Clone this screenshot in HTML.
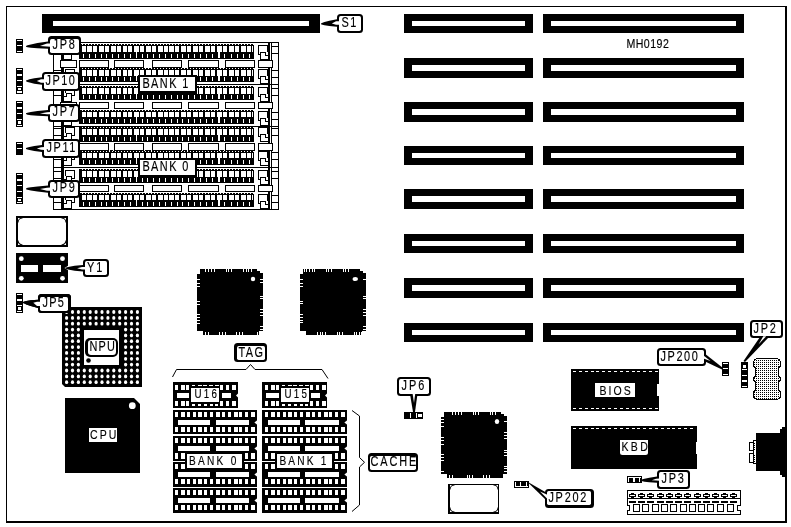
<!DOCTYPE html>
<html><head><meta charset="utf-8"><title>MH0192</title>
<style>
html,body{margin:0;padding:0;background:#fff;}
svg{display:block;filter:grayscale(1);}
text{font-family:"Liberation Sans",sans-serif;fill:#000;stroke:#000;stroke-width:0.15px;}
</style></head>
<body>
<svg width="791" height="527" viewBox="0 0 791 527" shape-rendering="crispEdges">
<rect x="0" y="0" width="791" height="527" fill="#fff"/>
<rect x="6" y="6" width="781" height="1" fill="#000"/>
<rect x="6" y="6" width="1" height="517" fill="#000"/>
<rect x="785" y="6" width="2" height="517" fill="#000"/>
<rect x="6" y="521" width="781" height="2" fill="#000"/>
<rect x="42" y="14" width="278" height="19" fill="#000"/>
<rect x="53" y="21" width="256" height="5" fill="#fff"/>
<rect x="404" y="14" width="129" height="19" fill="#000"/>
<rect x="412" y="21" width="113" height="5" fill="#fff"/>
<rect x="543" y="14" width="201" height="19" fill="#000"/>
<rect x="551" y="21" width="185" height="5" fill="#fff"/>
<rect x="404" y="58" width="129" height="20" fill="#000"/>
<rect x="412" y="65" width="113" height="6" fill="#fff"/>
<rect x="543" y="58" width="201" height="20" fill="#000"/>
<rect x="551" y="65" width="185" height="6" fill="#fff"/>
<rect x="404" y="102" width="129" height="20" fill="#000"/>
<rect x="412" y="109" width="113" height="6" fill="#fff"/>
<rect x="543" y="102" width="201" height="20" fill="#000"/>
<rect x="551" y="109" width="185" height="6" fill="#fff"/>
<rect x="404" y="146" width="129" height="19" fill="#000"/>
<rect x="412" y="153" width="113" height="5" fill="#fff"/>
<rect x="543" y="146" width="201" height="19" fill="#000"/>
<rect x="551" y="153" width="185" height="5" fill="#fff"/>
<rect x="404" y="189" width="129" height="20" fill="#000"/>
<rect x="412" y="196" width="113" height="6" fill="#fff"/>
<rect x="543" y="189" width="201" height="20" fill="#000"/>
<rect x="551" y="196" width="185" height="6" fill="#fff"/>
<rect x="404" y="234" width="129" height="19" fill="#000"/>
<rect x="412" y="241" width="113" height="5" fill="#fff"/>
<rect x="543" y="234" width="201" height="19" fill="#000"/>
<rect x="551" y="241" width="185" height="5" fill="#fff"/>
<rect x="404" y="278" width="129" height="20" fill="#000"/>
<rect x="412" y="285" width="113" height="6" fill="#fff"/>
<rect x="543" y="278" width="201" height="20" fill="#000"/>
<rect x="551" y="285" width="185" height="6" fill="#fff"/>
<rect x="404" y="323" width="129" height="19" fill="#000"/>
<rect x="412" y="330" width="113" height="5" fill="#fff"/>
<rect x="543" y="323" width="201" height="19" fill="#000"/>
<rect x="551" y="330" width="185" height="5" fill="#fff"/>
<text transform="translate(626.4,48) scale(0.85,1)" font-size="12.5" textLength="50.00" lengthAdjust="spacing">MH0192</text>
<rect x="53" y="42" width="226" height="1" fill="#000"/>
<rect x="53" y="209" width="226" height="1" fill="#000"/>
<rect x="53" y="42" width="1" height="168" fill="#000"/>
<rect x="278" y="42" width="1" height="168" fill="#000"/>
<rect x="61" y="42" width="3" height="168" fill="#000"/>
<rect x="268" y="42" width="2" height="168" fill="#000"/>
<rect x="271" y="42" width="1" height="168" fill="#000"/>
<rect x="53" y="84" width="226" height="1" fill="#000"/>
<rect x="53" y="126" width="226" height="1" fill="#000"/>
<rect x="53" y="167" width="226" height="1" fill="#000"/>
<rect x="54" y="46" width="7" height="1" fill="#000"/>
<rect x="272" y="46" width="6" height="1" fill="#000"/>
<rect x="54" y="53" width="7" height="1" fill="#000"/>
<rect x="272" y="53" width="6" height="1" fill="#000"/>
<rect x="54" y="70" width="7" height="1" fill="#000"/>
<rect x="272" y="70" width="6" height="1" fill="#000"/>
<rect x="54" y="77" width="7" height="1" fill="#000"/>
<rect x="272" y="77" width="6" height="1" fill="#000"/>
<rect x="54" y="88" width="7" height="1" fill="#000"/>
<rect x="272" y="88" width="6" height="1" fill="#000"/>
<rect x="54" y="95" width="7" height="1" fill="#000"/>
<rect x="272" y="95" width="6" height="1" fill="#000"/>
<rect x="54" y="112" width="7" height="1" fill="#000"/>
<rect x="272" y="112" width="6" height="1" fill="#000"/>
<rect x="54" y="119" width="7" height="1" fill="#000"/>
<rect x="272" y="119" width="6" height="1" fill="#000"/>
<rect x="54" y="128" width="7" height="1" fill="#000"/>
<rect x="272" y="128" width="6" height="1" fill="#000"/>
<rect x="54" y="135" width="7" height="1" fill="#000"/>
<rect x="272" y="135" width="6" height="1" fill="#000"/>
<rect x="54" y="152" width="7" height="1" fill="#000"/>
<rect x="272" y="152" width="6" height="1" fill="#000"/>
<rect x="54" y="159" width="7" height="1" fill="#000"/>
<rect x="272" y="159" width="6" height="1" fill="#000"/>
<rect x="54" y="171" width="7" height="1" fill="#000"/>
<rect x="272" y="171" width="6" height="1" fill="#000"/>
<rect x="54" y="178" width="7" height="1" fill="#000"/>
<rect x="272" y="178" width="6" height="1" fill="#000"/>
<rect x="54" y="195" width="7" height="1" fill="#000"/>
<rect x="272" y="195" width="6" height="1" fill="#000"/>
<rect x="54" y="202" width="7" height="1" fill="#000"/>
<rect x="272" y="202" width="6" height="1" fill="#000"/>
<rect x="258" y="45" width="10" height="10" fill="#000"/>
<rect x="259" y="46" width="8" height="8" fill="#fff"/>
<rect x="260" y="52" width="9" height="8" fill="#000"/>
<rect x="261" y="53" width="7" height="6" fill="#fff"/>
<rect x="266" y="52" width="2" height="3" fill="#fff"/>
<rect x="265" y="52" width="1" height="4" fill="#000"/>
<rect x="265" y="55" width="4" height="1" fill="#000"/>
<rect x="65" y="45" width="10" height="9" fill="#000"/>
<rect x="66" y="46" width="8" height="7" fill="#fff"/>
<rect x="63" y="51" width="9" height="9" fill="#000"/>
<rect x="64" y="52" width="7" height="7" fill="#fff"/>
<rect x="64" y="51" width="2" height="3" fill="#fff"/>
<rect x="66" y="51" width="1" height="4" fill="#000"/>
<rect x="63" y="54" width="4" height="1" fill="#000"/>
<rect x="61" y="51" width="3" height="9" fill="#000"/>
<rect x="258" y="69" width="10" height="10" fill="#000"/>
<rect x="259" y="70" width="8" height="8" fill="#fff"/>
<rect x="260" y="76" width="9" height="8" fill="#000"/>
<rect x="261" y="77" width="7" height="6" fill="#fff"/>
<rect x="266" y="76" width="2" height="3" fill="#fff"/>
<rect x="265" y="76" width="1" height="4" fill="#000"/>
<rect x="265" y="79" width="4" height="1" fill="#000"/>
<rect x="65" y="69" width="10" height="9" fill="#000"/>
<rect x="66" y="70" width="8" height="7" fill="#fff"/>
<rect x="63" y="75" width="9" height="9" fill="#000"/>
<rect x="64" y="76" width="7" height="7" fill="#fff"/>
<rect x="64" y="75" width="2" height="3" fill="#fff"/>
<rect x="66" y="75" width="1" height="4" fill="#000"/>
<rect x="63" y="78" width="4" height="1" fill="#000"/>
<rect x="61" y="75" width="3" height="9" fill="#000"/>
<rect x="258" y="87" width="10" height="10" fill="#000"/>
<rect x="259" y="88" width="8" height="8" fill="#fff"/>
<rect x="260" y="94" width="9" height="8" fill="#000"/>
<rect x="261" y="95" width="7" height="6" fill="#fff"/>
<rect x="266" y="94" width="2" height="3" fill="#fff"/>
<rect x="265" y="94" width="1" height="4" fill="#000"/>
<rect x="265" y="97" width="4" height="1" fill="#000"/>
<rect x="65" y="87" width="10" height="9" fill="#000"/>
<rect x="66" y="88" width="8" height="7" fill="#fff"/>
<rect x="63" y="93" width="9" height="9" fill="#000"/>
<rect x="64" y="94" width="7" height="7" fill="#fff"/>
<rect x="64" y="93" width="2" height="3" fill="#fff"/>
<rect x="66" y="93" width="1" height="4" fill="#000"/>
<rect x="63" y="96" width="4" height="1" fill="#000"/>
<rect x="61" y="93" width="3" height="9" fill="#000"/>
<rect x="258" y="111" width="10" height="10" fill="#000"/>
<rect x="259" y="112" width="8" height="8" fill="#fff"/>
<rect x="260" y="118" width="9" height="8" fill="#000"/>
<rect x="261" y="119" width="7" height="6" fill="#fff"/>
<rect x="266" y="118" width="2" height="3" fill="#fff"/>
<rect x="265" y="118" width="1" height="4" fill="#000"/>
<rect x="265" y="121" width="4" height="1" fill="#000"/>
<rect x="65" y="111" width="10" height="9" fill="#000"/>
<rect x="66" y="112" width="8" height="7" fill="#fff"/>
<rect x="63" y="117" width="9" height="9" fill="#000"/>
<rect x="64" y="118" width="7" height="7" fill="#fff"/>
<rect x="64" y="117" width="2" height="3" fill="#fff"/>
<rect x="66" y="117" width="1" height="4" fill="#000"/>
<rect x="63" y="120" width="4" height="1" fill="#000"/>
<rect x="61" y="117" width="3" height="9" fill="#000"/>
<rect x="258" y="127" width="10" height="10" fill="#000"/>
<rect x="259" y="128" width="8" height="8" fill="#fff"/>
<rect x="260" y="134" width="9" height="8" fill="#000"/>
<rect x="261" y="135" width="7" height="6" fill="#fff"/>
<rect x="266" y="134" width="2" height="3" fill="#fff"/>
<rect x="265" y="134" width="1" height="4" fill="#000"/>
<rect x="265" y="137" width="4" height="1" fill="#000"/>
<rect x="65" y="127" width="10" height="9" fill="#000"/>
<rect x="66" y="128" width="8" height="7" fill="#fff"/>
<rect x="63" y="133" width="9" height="9" fill="#000"/>
<rect x="64" y="134" width="7" height="7" fill="#fff"/>
<rect x="64" y="133" width="2" height="3" fill="#fff"/>
<rect x="66" y="133" width="1" height="4" fill="#000"/>
<rect x="63" y="136" width="4" height="1" fill="#000"/>
<rect x="61" y="133" width="3" height="9" fill="#000"/>
<rect x="258" y="151" width="10" height="10" fill="#000"/>
<rect x="259" y="152" width="8" height="8" fill="#fff"/>
<rect x="260" y="158" width="9" height="8" fill="#000"/>
<rect x="261" y="159" width="7" height="6" fill="#fff"/>
<rect x="266" y="158" width="2" height="3" fill="#fff"/>
<rect x="265" y="158" width="1" height="4" fill="#000"/>
<rect x="265" y="161" width="4" height="1" fill="#000"/>
<rect x="65" y="151" width="10" height="9" fill="#000"/>
<rect x="66" y="152" width="8" height="7" fill="#fff"/>
<rect x="63" y="157" width="9" height="9" fill="#000"/>
<rect x="64" y="158" width="7" height="7" fill="#fff"/>
<rect x="64" y="157" width="2" height="3" fill="#fff"/>
<rect x="66" y="157" width="1" height="4" fill="#000"/>
<rect x="63" y="160" width="4" height="1" fill="#000"/>
<rect x="61" y="157" width="3" height="9" fill="#000"/>
<rect x="258" y="170" width="10" height="10" fill="#000"/>
<rect x="259" y="171" width="8" height="8" fill="#fff"/>
<rect x="260" y="177" width="9" height="8" fill="#000"/>
<rect x="261" y="178" width="7" height="6" fill="#fff"/>
<rect x="266" y="177" width="2" height="3" fill="#fff"/>
<rect x="265" y="177" width="1" height="4" fill="#000"/>
<rect x="265" y="180" width="4" height="1" fill="#000"/>
<rect x="65" y="170" width="10" height="9" fill="#000"/>
<rect x="66" y="171" width="8" height="7" fill="#fff"/>
<rect x="63" y="176" width="9" height="9" fill="#000"/>
<rect x="64" y="177" width="7" height="7" fill="#fff"/>
<rect x="64" y="176" width="2" height="3" fill="#fff"/>
<rect x="66" y="176" width="1" height="4" fill="#000"/>
<rect x="63" y="179" width="4" height="1" fill="#000"/>
<rect x="61" y="176" width="3" height="9" fill="#000"/>
<rect x="258" y="194" width="10" height="10" fill="#000"/>
<rect x="259" y="195" width="8" height="8" fill="#fff"/>
<rect x="260" y="201" width="9" height="8" fill="#000"/>
<rect x="261" y="202" width="7" height="6" fill="#fff"/>
<rect x="266" y="201" width="2" height="3" fill="#fff"/>
<rect x="265" y="201" width="1" height="4" fill="#000"/>
<rect x="265" y="204" width="4" height="1" fill="#000"/>
<rect x="65" y="194" width="10" height="9" fill="#000"/>
<rect x="66" y="195" width="8" height="7" fill="#fff"/>
<rect x="63" y="200" width="9" height="9" fill="#000"/>
<rect x="64" y="201" width="7" height="7" fill="#fff"/>
<rect x="64" y="200" width="2" height="3" fill="#fff"/>
<rect x="66" y="200" width="1" height="4" fill="#000"/>
<rect x="63" y="203" width="4" height="1" fill="#000"/>
<rect x="61" y="200" width="3" height="9" fill="#000"/>
<rect x="61" y="42" width="3" height="168" fill="#000"/>
<rect x="268" y="42" width="2" height="168" fill="#000"/>
<rect x="60" y="60" width="17" height="8" fill="#000"/>
<rect x="61" y="61" width="15" height="6" fill="#fff"/>
<rect x="271" y="60" width="2" height="8" fill="#fff"/>
<rect x="258" y="60" width="15" height="8" fill="#000"/>
<rect x="259" y="61" width="13" height="6" fill="#fff"/>
<rect x="60" y="102" width="17" height="7" fill="#000"/>
<rect x="61" y="103" width="15" height="5" fill="#fff"/>
<rect x="271" y="102" width="2" height="7" fill="#fff"/>
<rect x="258" y="102" width="15" height="7" fill="#000"/>
<rect x="259" y="103" width="13" height="5" fill="#fff"/>
<rect x="60" y="143" width="17" height="8" fill="#000"/>
<rect x="61" y="144" width="15" height="6" fill="#fff"/>
<rect x="271" y="143" width="2" height="8" fill="#fff"/>
<rect x="258" y="143" width="15" height="8" fill="#000"/>
<rect x="259" y="144" width="13" height="6" fill="#fff"/>
<rect x="60" y="185" width="17" height="7" fill="#000"/>
<rect x="61" y="186" width="15" height="5" fill="#fff"/>
<rect x="271" y="185" width="2" height="7" fill="#fff"/>
<rect x="258" y="185" width="15" height="7" fill="#000"/>
<rect x="259" y="186" width="13" height="5" fill="#fff"/>
<rect x="79" y="44" width="175" height="15" fill="#000"/>
<rect x="82" y="44" width="1" height="1" fill="#fff"/>
<rect x="85" y="44" width="1" height="1" fill="#fff"/>
<rect x="88" y="44" width="1" height="1" fill="#fff"/>
<rect x="91" y="44" width="1" height="1" fill="#fff"/>
<rect x="94" y="44" width="1" height="1" fill="#fff"/>
<rect x="97" y="44" width="1" height="1" fill="#fff"/>
<rect x="100" y="44" width="1" height="1" fill="#fff"/>
<rect x="103" y="44" width="1" height="1" fill="#fff"/>
<rect x="106" y="44" width="1" height="1" fill="#fff"/>
<rect x="109" y="44" width="1" height="1" fill="#fff"/>
<rect x="112" y="44" width="1" height="1" fill="#fff"/>
<rect x="115" y="44" width="1" height="1" fill="#fff"/>
<rect x="118" y="44" width="1" height="1" fill="#fff"/>
<rect x="121" y="44" width="1" height="1" fill="#fff"/>
<rect x="124" y="44" width="1" height="1" fill="#fff"/>
<rect x="127" y="44" width="1" height="1" fill="#fff"/>
<rect x="130" y="44" width="1" height="1" fill="#fff"/>
<rect x="133" y="44" width="1" height="1" fill="#fff"/>
<rect x="136" y="44" width="1" height="1" fill="#fff"/>
<rect x="139" y="44" width="1" height="1" fill="#fff"/>
<rect x="142" y="44" width="1" height="1" fill="#fff"/>
<rect x="145" y="44" width="1" height="1" fill="#fff"/>
<rect x="148" y="44" width="1" height="1" fill="#fff"/>
<rect x="151" y="44" width="1" height="1" fill="#fff"/>
<rect x="154" y="44" width="1" height="1" fill="#fff"/>
<rect x="157" y="44" width="1" height="1" fill="#fff"/>
<rect x="160" y="44" width="1" height="1" fill="#fff"/>
<rect x="163" y="44" width="1" height="1" fill="#fff"/>
<rect x="166" y="44" width="1" height="1" fill="#fff"/>
<rect x="169" y="44" width="1" height="1" fill="#fff"/>
<rect x="172" y="44" width="1" height="1" fill="#fff"/>
<rect x="175" y="44" width="1" height="1" fill="#fff"/>
<rect x="178" y="44" width="1" height="1" fill="#fff"/>
<rect x="181" y="44" width="1" height="1" fill="#fff"/>
<rect x="184" y="44" width="1" height="1" fill="#fff"/>
<rect x="187" y="44" width="1" height="1" fill="#fff"/>
<rect x="190" y="44" width="1" height="1" fill="#fff"/>
<rect x="193" y="44" width="1" height="1" fill="#fff"/>
<rect x="196" y="44" width="1" height="1" fill="#fff"/>
<rect x="199" y="44" width="1" height="1" fill="#fff"/>
<rect x="202" y="44" width="1" height="1" fill="#fff"/>
<rect x="205" y="44" width="1" height="1" fill="#fff"/>
<rect x="208" y="44" width="1" height="1" fill="#fff"/>
<rect x="211" y="44" width="1" height="1" fill="#fff"/>
<rect x="214" y="44" width="1" height="1" fill="#fff"/>
<rect x="217" y="44" width="1" height="1" fill="#fff"/>
<rect x="220" y="44" width="1" height="1" fill="#fff"/>
<rect x="223" y="44" width="1" height="1" fill="#fff"/>
<rect x="226" y="44" width="1" height="1" fill="#fff"/>
<rect x="229" y="44" width="1" height="1" fill="#fff"/>
<rect x="232" y="44" width="1" height="1" fill="#fff"/>
<rect x="235" y="44" width="1" height="1" fill="#fff"/>
<rect x="238" y="44" width="1" height="1" fill="#fff"/>
<rect x="241" y="44" width="1" height="1" fill="#fff"/>
<rect x="244" y="44" width="1" height="1" fill="#fff"/>
<rect x="247" y="44" width="1" height="1" fill="#fff"/>
<rect x="250" y="44" width="1" height="1" fill="#fff"/>
<rect x="253" y="44" width="1" height="1" fill="#fff"/>
<rect x="82" y="46" width="4" height="6" fill="#fff"/>
<rect x="83" y="54" width="1" height="4" fill="#fff"/>
<rect x="87" y="46" width="5" height="6" fill="#fff"/>
<rect x="89" y="54" width="1" height="4" fill="#fff"/>
<rect x="93" y="46" width="4" height="6" fill="#fff"/>
<rect x="95" y="54" width="1" height="4" fill="#fff"/>
<rect x="99" y="46" width="5" height="6" fill="#fff"/>
<rect x="101" y="54" width="1" height="4" fill="#fff"/>
<rect x="105" y="46" width="4" height="6" fill="#fff"/>
<rect x="106" y="54" width="1" height="4" fill="#fff"/>
<rect x="111" y="46" width="5" height="6" fill="#fff"/>
<rect x="112" y="54" width="1" height="4" fill="#fff"/>
<rect x="117" y="46" width="4" height="6" fill="#fff"/>
<rect x="118" y="54" width="1" height="4" fill="#fff"/>
<rect x="123" y="46" width="4" height="6" fill="#fff"/>
<rect x="124" y="54" width="1" height="4" fill="#fff"/>
<rect x="128" y="46" width="4" height="6" fill="#fff"/>
<rect x="130" y="54" width="1" height="4" fill="#fff"/>
<rect x="134" y="46" width="5" height="6" fill="#fff"/>
<rect x="136" y="54" width="1" height="4" fill="#fff"/>
<rect x="140" y="46" width="4" height="6" fill="#fff"/>
<rect x="142" y="54" width="1" height="4" fill="#fff"/>
<rect x="146" y="46" width="5" height="6" fill="#fff"/>
<rect x="147" y="54" width="1" height="4" fill="#fff"/>
<rect x="152" y="46" width="4" height="6" fill="#fff"/>
<rect x="153" y="54" width="1" height="4" fill="#fff"/>
<rect x="158" y="46" width="5" height="6" fill="#fff"/>
<rect x="159" y="54" width="1" height="4" fill="#fff"/>
<rect x="164" y="46" width="4" height="6" fill="#fff"/>
<rect x="165" y="54" width="1" height="4" fill="#fff"/>
<rect x="169" y="46" width="5" height="6" fill="#fff"/>
<rect x="171" y="54" width="1" height="4" fill="#fff"/>
<rect x="175" y="46" width="4" height="6" fill="#fff"/>
<rect x="177" y="54" width="1" height="4" fill="#fff"/>
<rect x="181" y="46" width="5" height="6" fill="#fff"/>
<rect x="182" y="54" width="1" height="4" fill="#fff"/>
<rect x="187" y="46" width="4" height="6" fill="#fff"/>
<rect x="188" y="54" width="1" height="4" fill="#fff"/>
<rect x="193" y="46" width="5" height="6" fill="#fff"/>
<rect x="194" y="54" width="1" height="4" fill="#fff"/>
<rect x="199" y="46" width="4" height="6" fill="#fff"/>
<rect x="200" y="54" width="1" height="4" fill="#fff"/>
<rect x="205" y="46" width="5" height="6" fill="#fff"/>
<rect x="206" y="54" width="1" height="4" fill="#fff"/>
<rect x="211" y="46" width="4" height="6" fill="#fff"/>
<rect x="212" y="54" width="1" height="4" fill="#fff"/>
<rect x="217" y="46" width="5" height="6" fill="#fff"/>
<rect x="218" y="54" width="1" height="4" fill="#fff"/>
<rect x="223" y="46" width="4" height="6" fill="#fff"/>
<rect x="224" y="54" width="1" height="4" fill="#fff"/>
<rect x="229" y="46" width="5" height="6" fill="#fff"/>
<rect x="231" y="54" width="1" height="4" fill="#fff"/>
<rect x="235" y="46" width="4" height="6" fill="#fff"/>
<rect x="237" y="54" width="1" height="4" fill="#fff"/>
<rect x="241" y="46" width="5" height="6" fill="#fff"/>
<rect x="243" y="54" width="1" height="4" fill="#fff"/>
<rect x="247" y="46" width="4" height="6" fill="#fff"/>
<rect x="249" y="54" width="1" height="4" fill="#fff"/>
<rect x="252" y="46" width="1" height="6" fill="#fff"/>
<rect x="136" y="46" width="1" height="12" fill="#fff"/>
<rect x="218" y="46" width="2" height="12" fill="#fff"/>
<rect x="79" y="68" width="175" height="14" fill="#000"/>
<rect x="82" y="68" width="1" height="1" fill="#fff"/>
<rect x="85" y="68" width="1" height="1" fill="#fff"/>
<rect x="88" y="68" width="1" height="1" fill="#fff"/>
<rect x="91" y="68" width="1" height="1" fill="#fff"/>
<rect x="94" y="68" width="1" height="1" fill="#fff"/>
<rect x="97" y="68" width="1" height="1" fill="#fff"/>
<rect x="100" y="68" width="1" height="1" fill="#fff"/>
<rect x="103" y="68" width="1" height="1" fill="#fff"/>
<rect x="106" y="68" width="1" height="1" fill="#fff"/>
<rect x="109" y="68" width="1" height="1" fill="#fff"/>
<rect x="112" y="68" width="1" height="1" fill="#fff"/>
<rect x="115" y="68" width="1" height="1" fill="#fff"/>
<rect x="118" y="68" width="1" height="1" fill="#fff"/>
<rect x="121" y="68" width="1" height="1" fill="#fff"/>
<rect x="124" y="68" width="1" height="1" fill="#fff"/>
<rect x="127" y="68" width="1" height="1" fill="#fff"/>
<rect x="130" y="68" width="1" height="1" fill="#fff"/>
<rect x="133" y="68" width="1" height="1" fill="#fff"/>
<rect x="136" y="68" width="1" height="1" fill="#fff"/>
<rect x="139" y="68" width="1" height="1" fill="#fff"/>
<rect x="142" y="68" width="1" height="1" fill="#fff"/>
<rect x="145" y="68" width="1" height="1" fill="#fff"/>
<rect x="148" y="68" width="1" height="1" fill="#fff"/>
<rect x="151" y="68" width="1" height="1" fill="#fff"/>
<rect x="154" y="68" width="1" height="1" fill="#fff"/>
<rect x="157" y="68" width="1" height="1" fill="#fff"/>
<rect x="160" y="68" width="1" height="1" fill="#fff"/>
<rect x="163" y="68" width="1" height="1" fill="#fff"/>
<rect x="166" y="68" width="1" height="1" fill="#fff"/>
<rect x="169" y="68" width="1" height="1" fill="#fff"/>
<rect x="172" y="68" width="1" height="1" fill="#fff"/>
<rect x="175" y="68" width="1" height="1" fill="#fff"/>
<rect x="178" y="68" width="1" height="1" fill="#fff"/>
<rect x="181" y="68" width="1" height="1" fill="#fff"/>
<rect x="184" y="68" width="1" height="1" fill="#fff"/>
<rect x="187" y="68" width="1" height="1" fill="#fff"/>
<rect x="190" y="68" width="1" height="1" fill="#fff"/>
<rect x="193" y="68" width="1" height="1" fill="#fff"/>
<rect x="196" y="68" width="1" height="1" fill="#fff"/>
<rect x="199" y="68" width="1" height="1" fill="#fff"/>
<rect x="202" y="68" width="1" height="1" fill="#fff"/>
<rect x="205" y="68" width="1" height="1" fill="#fff"/>
<rect x="208" y="68" width="1" height="1" fill="#fff"/>
<rect x="211" y="68" width="1" height="1" fill="#fff"/>
<rect x="214" y="68" width="1" height="1" fill="#fff"/>
<rect x="217" y="68" width="1" height="1" fill="#fff"/>
<rect x="220" y="68" width="1" height="1" fill="#fff"/>
<rect x="223" y="68" width="1" height="1" fill="#fff"/>
<rect x="226" y="68" width="1" height="1" fill="#fff"/>
<rect x="229" y="68" width="1" height="1" fill="#fff"/>
<rect x="232" y="68" width="1" height="1" fill="#fff"/>
<rect x="235" y="68" width="1" height="1" fill="#fff"/>
<rect x="238" y="68" width="1" height="1" fill="#fff"/>
<rect x="241" y="68" width="1" height="1" fill="#fff"/>
<rect x="244" y="68" width="1" height="1" fill="#fff"/>
<rect x="247" y="68" width="1" height="1" fill="#fff"/>
<rect x="250" y="68" width="1" height="1" fill="#fff"/>
<rect x="253" y="68" width="1" height="1" fill="#fff"/>
<rect x="82" y="70" width="4" height="6" fill="#fff"/>
<rect x="83" y="77" width="1" height="4" fill="#fff"/>
<rect x="87" y="70" width="5" height="6" fill="#fff"/>
<rect x="89" y="77" width="1" height="4" fill="#fff"/>
<rect x="93" y="70" width="4" height="6" fill="#fff"/>
<rect x="95" y="77" width="1" height="4" fill="#fff"/>
<rect x="99" y="70" width="5" height="6" fill="#fff"/>
<rect x="101" y="77" width="1" height="4" fill="#fff"/>
<rect x="105" y="70" width="4" height="6" fill="#fff"/>
<rect x="106" y="77" width="1" height="4" fill="#fff"/>
<rect x="111" y="70" width="5" height="6" fill="#fff"/>
<rect x="112" y="77" width="1" height="4" fill="#fff"/>
<rect x="117" y="70" width="4" height="6" fill="#fff"/>
<rect x="118" y="77" width="1" height="4" fill="#fff"/>
<rect x="123" y="70" width="4" height="6" fill="#fff"/>
<rect x="124" y="77" width="1" height="4" fill="#fff"/>
<rect x="128" y="70" width="4" height="6" fill="#fff"/>
<rect x="130" y="77" width="1" height="4" fill="#fff"/>
<rect x="134" y="70" width="5" height="6" fill="#fff"/>
<rect x="136" y="77" width="1" height="4" fill="#fff"/>
<rect x="140" y="70" width="4" height="6" fill="#fff"/>
<rect x="142" y="77" width="1" height="4" fill="#fff"/>
<rect x="146" y="70" width="5" height="6" fill="#fff"/>
<rect x="147" y="77" width="1" height="4" fill="#fff"/>
<rect x="152" y="70" width="4" height="6" fill="#fff"/>
<rect x="153" y="77" width="1" height="4" fill="#fff"/>
<rect x="158" y="70" width="5" height="6" fill="#fff"/>
<rect x="159" y="77" width="1" height="4" fill="#fff"/>
<rect x="164" y="70" width="4" height="6" fill="#fff"/>
<rect x="165" y="77" width="1" height="4" fill="#fff"/>
<rect x="169" y="70" width="5" height="6" fill="#fff"/>
<rect x="171" y="77" width="1" height="4" fill="#fff"/>
<rect x="175" y="70" width="4" height="6" fill="#fff"/>
<rect x="177" y="77" width="1" height="4" fill="#fff"/>
<rect x="181" y="70" width="5" height="6" fill="#fff"/>
<rect x="182" y="77" width="1" height="4" fill="#fff"/>
<rect x="187" y="70" width="4" height="6" fill="#fff"/>
<rect x="188" y="77" width="1" height="4" fill="#fff"/>
<rect x="193" y="70" width="5" height="6" fill="#fff"/>
<rect x="194" y="77" width="1" height="4" fill="#fff"/>
<rect x="199" y="70" width="4" height="6" fill="#fff"/>
<rect x="200" y="77" width="1" height="4" fill="#fff"/>
<rect x="205" y="70" width="5" height="6" fill="#fff"/>
<rect x="206" y="77" width="1" height="4" fill="#fff"/>
<rect x="211" y="70" width="4" height="6" fill="#fff"/>
<rect x="212" y="77" width="1" height="4" fill="#fff"/>
<rect x="217" y="70" width="5" height="6" fill="#fff"/>
<rect x="218" y="77" width="1" height="4" fill="#fff"/>
<rect x="223" y="70" width="4" height="6" fill="#fff"/>
<rect x="224" y="77" width="1" height="4" fill="#fff"/>
<rect x="229" y="70" width="5" height="6" fill="#fff"/>
<rect x="231" y="77" width="1" height="4" fill="#fff"/>
<rect x="235" y="70" width="4" height="6" fill="#fff"/>
<rect x="237" y="77" width="1" height="4" fill="#fff"/>
<rect x="241" y="70" width="5" height="6" fill="#fff"/>
<rect x="243" y="77" width="1" height="4" fill="#fff"/>
<rect x="247" y="70" width="4" height="6" fill="#fff"/>
<rect x="249" y="77" width="1" height="4" fill="#fff"/>
<rect x="252" y="70" width="1" height="6" fill="#fff"/>
<rect x="136" y="70" width="1" height="11" fill="#fff"/>
<rect x="218" y="70" width="2" height="11" fill="#fff"/>
<rect x="79" y="86" width="175" height="14" fill="#000"/>
<rect x="82" y="86" width="1" height="1" fill="#fff"/>
<rect x="85" y="86" width="1" height="1" fill="#fff"/>
<rect x="88" y="86" width="1" height="1" fill="#fff"/>
<rect x="91" y="86" width="1" height="1" fill="#fff"/>
<rect x="94" y="86" width="1" height="1" fill="#fff"/>
<rect x="97" y="86" width="1" height="1" fill="#fff"/>
<rect x="100" y="86" width="1" height="1" fill="#fff"/>
<rect x="103" y="86" width="1" height="1" fill="#fff"/>
<rect x="106" y="86" width="1" height="1" fill="#fff"/>
<rect x="109" y="86" width="1" height="1" fill="#fff"/>
<rect x="112" y="86" width="1" height="1" fill="#fff"/>
<rect x="115" y="86" width="1" height="1" fill="#fff"/>
<rect x="118" y="86" width="1" height="1" fill="#fff"/>
<rect x="121" y="86" width="1" height="1" fill="#fff"/>
<rect x="124" y="86" width="1" height="1" fill="#fff"/>
<rect x="127" y="86" width="1" height="1" fill="#fff"/>
<rect x="130" y="86" width="1" height="1" fill="#fff"/>
<rect x="133" y="86" width="1" height="1" fill="#fff"/>
<rect x="136" y="86" width="1" height="1" fill="#fff"/>
<rect x="139" y="86" width="1" height="1" fill="#fff"/>
<rect x="142" y="86" width="1" height="1" fill="#fff"/>
<rect x="145" y="86" width="1" height="1" fill="#fff"/>
<rect x="148" y="86" width="1" height="1" fill="#fff"/>
<rect x="151" y="86" width="1" height="1" fill="#fff"/>
<rect x="154" y="86" width="1" height="1" fill="#fff"/>
<rect x="157" y="86" width="1" height="1" fill="#fff"/>
<rect x="160" y="86" width="1" height="1" fill="#fff"/>
<rect x="163" y="86" width="1" height="1" fill="#fff"/>
<rect x="166" y="86" width="1" height="1" fill="#fff"/>
<rect x="169" y="86" width="1" height="1" fill="#fff"/>
<rect x="172" y="86" width="1" height="1" fill="#fff"/>
<rect x="175" y="86" width="1" height="1" fill="#fff"/>
<rect x="178" y="86" width="1" height="1" fill="#fff"/>
<rect x="181" y="86" width="1" height="1" fill="#fff"/>
<rect x="184" y="86" width="1" height="1" fill="#fff"/>
<rect x="187" y="86" width="1" height="1" fill="#fff"/>
<rect x="190" y="86" width="1" height="1" fill="#fff"/>
<rect x="193" y="86" width="1" height="1" fill="#fff"/>
<rect x="196" y="86" width="1" height="1" fill="#fff"/>
<rect x="199" y="86" width="1" height="1" fill="#fff"/>
<rect x="202" y="86" width="1" height="1" fill="#fff"/>
<rect x="205" y="86" width="1" height="1" fill="#fff"/>
<rect x="208" y="86" width="1" height="1" fill="#fff"/>
<rect x="211" y="86" width="1" height="1" fill="#fff"/>
<rect x="214" y="86" width="1" height="1" fill="#fff"/>
<rect x="217" y="86" width="1" height="1" fill="#fff"/>
<rect x="220" y="86" width="1" height="1" fill="#fff"/>
<rect x="223" y="86" width="1" height="1" fill="#fff"/>
<rect x="226" y="86" width="1" height="1" fill="#fff"/>
<rect x="229" y="86" width="1" height="1" fill="#fff"/>
<rect x="232" y="86" width="1" height="1" fill="#fff"/>
<rect x="235" y="86" width="1" height="1" fill="#fff"/>
<rect x="238" y="86" width="1" height="1" fill="#fff"/>
<rect x="241" y="86" width="1" height="1" fill="#fff"/>
<rect x="244" y="86" width="1" height="1" fill="#fff"/>
<rect x="247" y="86" width="1" height="1" fill="#fff"/>
<rect x="250" y="86" width="1" height="1" fill="#fff"/>
<rect x="253" y="86" width="1" height="1" fill="#fff"/>
<rect x="82" y="88" width="4" height="6" fill="#fff"/>
<rect x="83" y="95" width="1" height="4" fill="#fff"/>
<rect x="87" y="88" width="5" height="6" fill="#fff"/>
<rect x="89" y="95" width="1" height="4" fill="#fff"/>
<rect x="93" y="88" width="4" height="6" fill="#fff"/>
<rect x="95" y="95" width="1" height="4" fill="#fff"/>
<rect x="99" y="88" width="5" height="6" fill="#fff"/>
<rect x="101" y="95" width="1" height="4" fill="#fff"/>
<rect x="105" y="88" width="4" height="6" fill="#fff"/>
<rect x="106" y="95" width="1" height="4" fill="#fff"/>
<rect x="111" y="88" width="5" height="6" fill="#fff"/>
<rect x="112" y="95" width="1" height="4" fill="#fff"/>
<rect x="117" y="88" width="4" height="6" fill="#fff"/>
<rect x="118" y="95" width="1" height="4" fill="#fff"/>
<rect x="123" y="88" width="4" height="6" fill="#fff"/>
<rect x="124" y="95" width="1" height="4" fill="#fff"/>
<rect x="128" y="88" width="4" height="6" fill="#fff"/>
<rect x="130" y="95" width="1" height="4" fill="#fff"/>
<rect x="134" y="88" width="5" height="6" fill="#fff"/>
<rect x="136" y="95" width="1" height="4" fill="#fff"/>
<rect x="140" y="88" width="4" height="6" fill="#fff"/>
<rect x="142" y="95" width="1" height="4" fill="#fff"/>
<rect x="146" y="88" width="5" height="6" fill="#fff"/>
<rect x="147" y="95" width="1" height="4" fill="#fff"/>
<rect x="152" y="88" width="4" height="6" fill="#fff"/>
<rect x="153" y="95" width="1" height="4" fill="#fff"/>
<rect x="158" y="88" width="5" height="6" fill="#fff"/>
<rect x="159" y="95" width="1" height="4" fill="#fff"/>
<rect x="164" y="88" width="4" height="6" fill="#fff"/>
<rect x="165" y="95" width="1" height="4" fill="#fff"/>
<rect x="169" y="88" width="5" height="6" fill="#fff"/>
<rect x="171" y="95" width="1" height="4" fill="#fff"/>
<rect x="175" y="88" width="4" height="6" fill="#fff"/>
<rect x="177" y="95" width="1" height="4" fill="#fff"/>
<rect x="181" y="88" width="5" height="6" fill="#fff"/>
<rect x="182" y="95" width="1" height="4" fill="#fff"/>
<rect x="187" y="88" width="4" height="6" fill="#fff"/>
<rect x="188" y="95" width="1" height="4" fill="#fff"/>
<rect x="193" y="88" width="5" height="6" fill="#fff"/>
<rect x="194" y="95" width="1" height="4" fill="#fff"/>
<rect x="199" y="88" width="4" height="6" fill="#fff"/>
<rect x="200" y="95" width="1" height="4" fill="#fff"/>
<rect x="205" y="88" width="5" height="6" fill="#fff"/>
<rect x="206" y="95" width="1" height="4" fill="#fff"/>
<rect x="211" y="88" width="4" height="6" fill="#fff"/>
<rect x="212" y="95" width="1" height="4" fill="#fff"/>
<rect x="217" y="88" width="5" height="6" fill="#fff"/>
<rect x="218" y="95" width="1" height="4" fill="#fff"/>
<rect x="223" y="88" width="4" height="6" fill="#fff"/>
<rect x="224" y="95" width="1" height="4" fill="#fff"/>
<rect x="229" y="88" width="5" height="6" fill="#fff"/>
<rect x="231" y="95" width="1" height="4" fill="#fff"/>
<rect x="235" y="88" width="4" height="6" fill="#fff"/>
<rect x="237" y="95" width="1" height="4" fill="#fff"/>
<rect x="241" y="88" width="5" height="6" fill="#fff"/>
<rect x="243" y="95" width="1" height="4" fill="#fff"/>
<rect x="247" y="88" width="4" height="6" fill="#fff"/>
<rect x="249" y="95" width="1" height="4" fill="#fff"/>
<rect x="252" y="88" width="1" height="6" fill="#fff"/>
<rect x="136" y="88" width="1" height="11" fill="#fff"/>
<rect x="218" y="88" width="2" height="11" fill="#fff"/>
<rect x="79" y="110" width="175" height="14" fill="#000"/>
<rect x="82" y="110" width="1" height="1" fill="#fff"/>
<rect x="85" y="110" width="1" height="1" fill="#fff"/>
<rect x="88" y="110" width="1" height="1" fill="#fff"/>
<rect x="91" y="110" width="1" height="1" fill="#fff"/>
<rect x="94" y="110" width="1" height="1" fill="#fff"/>
<rect x="97" y="110" width="1" height="1" fill="#fff"/>
<rect x="100" y="110" width="1" height="1" fill="#fff"/>
<rect x="103" y="110" width="1" height="1" fill="#fff"/>
<rect x="106" y="110" width="1" height="1" fill="#fff"/>
<rect x="109" y="110" width="1" height="1" fill="#fff"/>
<rect x="112" y="110" width="1" height="1" fill="#fff"/>
<rect x="115" y="110" width="1" height="1" fill="#fff"/>
<rect x="118" y="110" width="1" height="1" fill="#fff"/>
<rect x="121" y="110" width="1" height="1" fill="#fff"/>
<rect x="124" y="110" width="1" height="1" fill="#fff"/>
<rect x="127" y="110" width="1" height="1" fill="#fff"/>
<rect x="130" y="110" width="1" height="1" fill="#fff"/>
<rect x="133" y="110" width="1" height="1" fill="#fff"/>
<rect x="136" y="110" width="1" height="1" fill="#fff"/>
<rect x="139" y="110" width="1" height="1" fill="#fff"/>
<rect x="142" y="110" width="1" height="1" fill="#fff"/>
<rect x="145" y="110" width="1" height="1" fill="#fff"/>
<rect x="148" y="110" width="1" height="1" fill="#fff"/>
<rect x="151" y="110" width="1" height="1" fill="#fff"/>
<rect x="154" y="110" width="1" height="1" fill="#fff"/>
<rect x="157" y="110" width="1" height="1" fill="#fff"/>
<rect x="160" y="110" width="1" height="1" fill="#fff"/>
<rect x="163" y="110" width="1" height="1" fill="#fff"/>
<rect x="166" y="110" width="1" height="1" fill="#fff"/>
<rect x="169" y="110" width="1" height="1" fill="#fff"/>
<rect x="172" y="110" width="1" height="1" fill="#fff"/>
<rect x="175" y="110" width="1" height="1" fill="#fff"/>
<rect x="178" y="110" width="1" height="1" fill="#fff"/>
<rect x="181" y="110" width="1" height="1" fill="#fff"/>
<rect x="184" y="110" width="1" height="1" fill="#fff"/>
<rect x="187" y="110" width="1" height="1" fill="#fff"/>
<rect x="190" y="110" width="1" height="1" fill="#fff"/>
<rect x="193" y="110" width="1" height="1" fill="#fff"/>
<rect x="196" y="110" width="1" height="1" fill="#fff"/>
<rect x="199" y="110" width="1" height="1" fill="#fff"/>
<rect x="202" y="110" width="1" height="1" fill="#fff"/>
<rect x="205" y="110" width="1" height="1" fill="#fff"/>
<rect x="208" y="110" width="1" height="1" fill="#fff"/>
<rect x="211" y="110" width="1" height="1" fill="#fff"/>
<rect x="214" y="110" width="1" height="1" fill="#fff"/>
<rect x="217" y="110" width="1" height="1" fill="#fff"/>
<rect x="220" y="110" width="1" height="1" fill="#fff"/>
<rect x="223" y="110" width="1" height="1" fill="#fff"/>
<rect x="226" y="110" width="1" height="1" fill="#fff"/>
<rect x="229" y="110" width="1" height="1" fill="#fff"/>
<rect x="232" y="110" width="1" height="1" fill="#fff"/>
<rect x="235" y="110" width="1" height="1" fill="#fff"/>
<rect x="238" y="110" width="1" height="1" fill="#fff"/>
<rect x="241" y="110" width="1" height="1" fill="#fff"/>
<rect x="244" y="110" width="1" height="1" fill="#fff"/>
<rect x="247" y="110" width="1" height="1" fill="#fff"/>
<rect x="250" y="110" width="1" height="1" fill="#fff"/>
<rect x="253" y="110" width="1" height="1" fill="#fff"/>
<rect x="82" y="112" width="4" height="5" fill="#fff"/>
<rect x="83" y="119" width="1" height="4" fill="#fff"/>
<rect x="87" y="112" width="5" height="5" fill="#fff"/>
<rect x="89" y="119" width="1" height="4" fill="#fff"/>
<rect x="93" y="112" width="4" height="5" fill="#fff"/>
<rect x="95" y="119" width="1" height="4" fill="#fff"/>
<rect x="99" y="112" width="5" height="5" fill="#fff"/>
<rect x="101" y="119" width="1" height="4" fill="#fff"/>
<rect x="105" y="112" width="4" height="5" fill="#fff"/>
<rect x="106" y="119" width="1" height="4" fill="#fff"/>
<rect x="111" y="112" width="5" height="5" fill="#fff"/>
<rect x="112" y="119" width="1" height="4" fill="#fff"/>
<rect x="117" y="112" width="4" height="5" fill="#fff"/>
<rect x="118" y="119" width="1" height="4" fill="#fff"/>
<rect x="123" y="112" width="4" height="5" fill="#fff"/>
<rect x="124" y="119" width="1" height="4" fill="#fff"/>
<rect x="128" y="112" width="4" height="5" fill="#fff"/>
<rect x="130" y="119" width="1" height="4" fill="#fff"/>
<rect x="134" y="112" width="5" height="5" fill="#fff"/>
<rect x="136" y="119" width="1" height="4" fill="#fff"/>
<rect x="140" y="112" width="4" height="5" fill="#fff"/>
<rect x="142" y="119" width="1" height="4" fill="#fff"/>
<rect x="146" y="112" width="5" height="5" fill="#fff"/>
<rect x="147" y="119" width="1" height="4" fill="#fff"/>
<rect x="152" y="112" width="4" height="5" fill="#fff"/>
<rect x="153" y="119" width="1" height="4" fill="#fff"/>
<rect x="158" y="112" width="5" height="5" fill="#fff"/>
<rect x="159" y="119" width="1" height="4" fill="#fff"/>
<rect x="164" y="112" width="4" height="5" fill="#fff"/>
<rect x="165" y="119" width="1" height="4" fill="#fff"/>
<rect x="169" y="112" width="5" height="5" fill="#fff"/>
<rect x="171" y="119" width="1" height="4" fill="#fff"/>
<rect x="175" y="112" width="4" height="5" fill="#fff"/>
<rect x="177" y="119" width="1" height="4" fill="#fff"/>
<rect x="181" y="112" width="5" height="5" fill="#fff"/>
<rect x="182" y="119" width="1" height="4" fill="#fff"/>
<rect x="187" y="112" width="4" height="5" fill="#fff"/>
<rect x="188" y="119" width="1" height="4" fill="#fff"/>
<rect x="193" y="112" width="5" height="5" fill="#fff"/>
<rect x="194" y="119" width="1" height="4" fill="#fff"/>
<rect x="199" y="112" width="4" height="5" fill="#fff"/>
<rect x="200" y="119" width="1" height="4" fill="#fff"/>
<rect x="205" y="112" width="5" height="5" fill="#fff"/>
<rect x="206" y="119" width="1" height="4" fill="#fff"/>
<rect x="211" y="112" width="4" height="5" fill="#fff"/>
<rect x="212" y="119" width="1" height="4" fill="#fff"/>
<rect x="217" y="112" width="5" height="5" fill="#fff"/>
<rect x="218" y="119" width="1" height="4" fill="#fff"/>
<rect x="223" y="112" width="4" height="5" fill="#fff"/>
<rect x="224" y="119" width="1" height="4" fill="#fff"/>
<rect x="229" y="112" width="5" height="5" fill="#fff"/>
<rect x="231" y="119" width="1" height="4" fill="#fff"/>
<rect x="235" y="112" width="4" height="5" fill="#fff"/>
<rect x="237" y="119" width="1" height="4" fill="#fff"/>
<rect x="241" y="112" width="5" height="5" fill="#fff"/>
<rect x="243" y="119" width="1" height="4" fill="#fff"/>
<rect x="247" y="112" width="4" height="5" fill="#fff"/>
<rect x="249" y="119" width="1" height="4" fill="#fff"/>
<rect x="252" y="112" width="1" height="5" fill="#fff"/>
<rect x="136" y="112" width="1" height="11" fill="#fff"/>
<rect x="218" y="112" width="2" height="11" fill="#fff"/>
<rect x="79" y="126" width="175" height="16" fill="#000"/>
<rect x="82" y="127" width="1" height="1" fill="#fff"/>
<rect x="85" y="127" width="1" height="1" fill="#fff"/>
<rect x="88" y="127" width="1" height="1" fill="#fff"/>
<rect x="91" y="127" width="1" height="1" fill="#fff"/>
<rect x="94" y="127" width="1" height="1" fill="#fff"/>
<rect x="97" y="127" width="1" height="1" fill="#fff"/>
<rect x="100" y="127" width="1" height="1" fill="#fff"/>
<rect x="103" y="127" width="1" height="1" fill="#fff"/>
<rect x="106" y="127" width="1" height="1" fill="#fff"/>
<rect x="109" y="127" width="1" height="1" fill="#fff"/>
<rect x="112" y="127" width="1" height="1" fill="#fff"/>
<rect x="115" y="127" width="1" height="1" fill="#fff"/>
<rect x="118" y="127" width="1" height="1" fill="#fff"/>
<rect x="121" y="127" width="1" height="1" fill="#fff"/>
<rect x="124" y="127" width="1" height="1" fill="#fff"/>
<rect x="127" y="127" width="1" height="1" fill="#fff"/>
<rect x="130" y="127" width="1" height="1" fill="#fff"/>
<rect x="133" y="127" width="1" height="1" fill="#fff"/>
<rect x="136" y="127" width="1" height="1" fill="#fff"/>
<rect x="139" y="127" width="1" height="1" fill="#fff"/>
<rect x="142" y="127" width="1" height="1" fill="#fff"/>
<rect x="145" y="127" width="1" height="1" fill="#fff"/>
<rect x="148" y="127" width="1" height="1" fill="#fff"/>
<rect x="151" y="127" width="1" height="1" fill="#fff"/>
<rect x="154" y="127" width="1" height="1" fill="#fff"/>
<rect x="157" y="127" width="1" height="1" fill="#fff"/>
<rect x="160" y="127" width="1" height="1" fill="#fff"/>
<rect x="163" y="127" width="1" height="1" fill="#fff"/>
<rect x="166" y="127" width="1" height="1" fill="#fff"/>
<rect x="169" y="127" width="1" height="1" fill="#fff"/>
<rect x="172" y="127" width="1" height="1" fill="#fff"/>
<rect x="175" y="127" width="1" height="1" fill="#fff"/>
<rect x="178" y="127" width="1" height="1" fill="#fff"/>
<rect x="181" y="127" width="1" height="1" fill="#fff"/>
<rect x="184" y="127" width="1" height="1" fill="#fff"/>
<rect x="187" y="127" width="1" height="1" fill="#fff"/>
<rect x="190" y="127" width="1" height="1" fill="#fff"/>
<rect x="193" y="127" width="1" height="1" fill="#fff"/>
<rect x="196" y="127" width="1" height="1" fill="#fff"/>
<rect x="199" y="127" width="1" height="1" fill="#fff"/>
<rect x="202" y="127" width="1" height="1" fill="#fff"/>
<rect x="205" y="127" width="1" height="1" fill="#fff"/>
<rect x="208" y="127" width="1" height="1" fill="#fff"/>
<rect x="211" y="127" width="1" height="1" fill="#fff"/>
<rect x="214" y="127" width="1" height="1" fill="#fff"/>
<rect x="217" y="127" width="1" height="1" fill="#fff"/>
<rect x="220" y="127" width="1" height="1" fill="#fff"/>
<rect x="223" y="127" width="1" height="1" fill="#fff"/>
<rect x="226" y="127" width="1" height="1" fill="#fff"/>
<rect x="229" y="127" width="1" height="1" fill="#fff"/>
<rect x="232" y="127" width="1" height="1" fill="#fff"/>
<rect x="235" y="127" width="1" height="1" fill="#fff"/>
<rect x="238" y="127" width="1" height="1" fill="#fff"/>
<rect x="241" y="127" width="1" height="1" fill="#fff"/>
<rect x="244" y="127" width="1" height="1" fill="#fff"/>
<rect x="247" y="127" width="1" height="1" fill="#fff"/>
<rect x="250" y="127" width="1" height="1" fill="#fff"/>
<rect x="253" y="127" width="1" height="1" fill="#fff"/>
<rect x="82" y="129" width="4" height="6" fill="#fff"/>
<rect x="83" y="137" width="1" height="4" fill="#fff"/>
<rect x="87" y="129" width="5" height="6" fill="#fff"/>
<rect x="89" y="137" width="1" height="4" fill="#fff"/>
<rect x="93" y="129" width="4" height="6" fill="#fff"/>
<rect x="95" y="137" width="1" height="4" fill="#fff"/>
<rect x="99" y="129" width="5" height="6" fill="#fff"/>
<rect x="101" y="137" width="1" height="4" fill="#fff"/>
<rect x="105" y="129" width="4" height="6" fill="#fff"/>
<rect x="106" y="137" width="1" height="4" fill="#fff"/>
<rect x="111" y="129" width="5" height="6" fill="#fff"/>
<rect x="112" y="137" width="1" height="4" fill="#fff"/>
<rect x="117" y="129" width="4" height="6" fill="#fff"/>
<rect x="118" y="137" width="1" height="4" fill="#fff"/>
<rect x="123" y="129" width="4" height="6" fill="#fff"/>
<rect x="124" y="137" width="1" height="4" fill="#fff"/>
<rect x="128" y="129" width="4" height="6" fill="#fff"/>
<rect x="130" y="137" width="1" height="4" fill="#fff"/>
<rect x="134" y="129" width="5" height="6" fill="#fff"/>
<rect x="136" y="137" width="1" height="4" fill="#fff"/>
<rect x="140" y="129" width="4" height="6" fill="#fff"/>
<rect x="142" y="137" width="1" height="4" fill="#fff"/>
<rect x="146" y="129" width="5" height="6" fill="#fff"/>
<rect x="147" y="137" width="1" height="4" fill="#fff"/>
<rect x="152" y="129" width="4" height="6" fill="#fff"/>
<rect x="153" y="137" width="1" height="4" fill="#fff"/>
<rect x="158" y="129" width="5" height="6" fill="#fff"/>
<rect x="159" y="137" width="1" height="4" fill="#fff"/>
<rect x="164" y="129" width="4" height="6" fill="#fff"/>
<rect x="165" y="137" width="1" height="4" fill="#fff"/>
<rect x="169" y="129" width="5" height="6" fill="#fff"/>
<rect x="171" y="137" width="1" height="4" fill="#fff"/>
<rect x="175" y="129" width="4" height="6" fill="#fff"/>
<rect x="177" y="137" width="1" height="4" fill="#fff"/>
<rect x="181" y="129" width="5" height="6" fill="#fff"/>
<rect x="182" y="137" width="1" height="4" fill="#fff"/>
<rect x="187" y="129" width="4" height="6" fill="#fff"/>
<rect x="188" y="137" width="1" height="4" fill="#fff"/>
<rect x="193" y="129" width="5" height="6" fill="#fff"/>
<rect x="194" y="137" width="1" height="4" fill="#fff"/>
<rect x="199" y="129" width="4" height="6" fill="#fff"/>
<rect x="200" y="137" width="1" height="4" fill="#fff"/>
<rect x="205" y="129" width="5" height="6" fill="#fff"/>
<rect x="206" y="137" width="1" height="4" fill="#fff"/>
<rect x="211" y="129" width="4" height="6" fill="#fff"/>
<rect x="212" y="137" width="1" height="4" fill="#fff"/>
<rect x="217" y="129" width="5" height="6" fill="#fff"/>
<rect x="218" y="137" width="1" height="4" fill="#fff"/>
<rect x="223" y="129" width="4" height="6" fill="#fff"/>
<rect x="224" y="137" width="1" height="4" fill="#fff"/>
<rect x="229" y="129" width="5" height="6" fill="#fff"/>
<rect x="231" y="137" width="1" height="4" fill="#fff"/>
<rect x="235" y="129" width="4" height="6" fill="#fff"/>
<rect x="237" y="137" width="1" height="4" fill="#fff"/>
<rect x="241" y="129" width="5" height="6" fill="#fff"/>
<rect x="243" y="137" width="1" height="4" fill="#fff"/>
<rect x="247" y="129" width="4" height="6" fill="#fff"/>
<rect x="249" y="137" width="1" height="4" fill="#fff"/>
<rect x="252" y="129" width="1" height="6" fill="#fff"/>
<rect x="136" y="129" width="1" height="12" fill="#fff"/>
<rect x="218" y="129" width="2" height="12" fill="#fff"/>
<rect x="79" y="150" width="175" height="15" fill="#000"/>
<rect x="82" y="151" width="1" height="1" fill="#fff"/>
<rect x="85" y="151" width="1" height="1" fill="#fff"/>
<rect x="88" y="151" width="1" height="1" fill="#fff"/>
<rect x="91" y="151" width="1" height="1" fill="#fff"/>
<rect x="94" y="151" width="1" height="1" fill="#fff"/>
<rect x="97" y="151" width="1" height="1" fill="#fff"/>
<rect x="100" y="151" width="1" height="1" fill="#fff"/>
<rect x="103" y="151" width="1" height="1" fill="#fff"/>
<rect x="106" y="151" width="1" height="1" fill="#fff"/>
<rect x="109" y="151" width="1" height="1" fill="#fff"/>
<rect x="112" y="151" width="1" height="1" fill="#fff"/>
<rect x="115" y="151" width="1" height="1" fill="#fff"/>
<rect x="118" y="151" width="1" height="1" fill="#fff"/>
<rect x="121" y="151" width="1" height="1" fill="#fff"/>
<rect x="124" y="151" width="1" height="1" fill="#fff"/>
<rect x="127" y="151" width="1" height="1" fill="#fff"/>
<rect x="130" y="151" width="1" height="1" fill="#fff"/>
<rect x="133" y="151" width="1" height="1" fill="#fff"/>
<rect x="136" y="151" width="1" height="1" fill="#fff"/>
<rect x="139" y="151" width="1" height="1" fill="#fff"/>
<rect x="142" y="151" width="1" height="1" fill="#fff"/>
<rect x="145" y="151" width="1" height="1" fill="#fff"/>
<rect x="148" y="151" width="1" height="1" fill="#fff"/>
<rect x="151" y="151" width="1" height="1" fill="#fff"/>
<rect x="154" y="151" width="1" height="1" fill="#fff"/>
<rect x="157" y="151" width="1" height="1" fill="#fff"/>
<rect x="160" y="151" width="1" height="1" fill="#fff"/>
<rect x="163" y="151" width="1" height="1" fill="#fff"/>
<rect x="166" y="151" width="1" height="1" fill="#fff"/>
<rect x="169" y="151" width="1" height="1" fill="#fff"/>
<rect x="172" y="151" width="1" height="1" fill="#fff"/>
<rect x="175" y="151" width="1" height="1" fill="#fff"/>
<rect x="178" y="151" width="1" height="1" fill="#fff"/>
<rect x="181" y="151" width="1" height="1" fill="#fff"/>
<rect x="184" y="151" width="1" height="1" fill="#fff"/>
<rect x="187" y="151" width="1" height="1" fill="#fff"/>
<rect x="190" y="151" width="1" height="1" fill="#fff"/>
<rect x="193" y="151" width="1" height="1" fill="#fff"/>
<rect x="196" y="151" width="1" height="1" fill="#fff"/>
<rect x="199" y="151" width="1" height="1" fill="#fff"/>
<rect x="202" y="151" width="1" height="1" fill="#fff"/>
<rect x="205" y="151" width="1" height="1" fill="#fff"/>
<rect x="208" y="151" width="1" height="1" fill="#fff"/>
<rect x="211" y="151" width="1" height="1" fill="#fff"/>
<rect x="214" y="151" width="1" height="1" fill="#fff"/>
<rect x="217" y="151" width="1" height="1" fill="#fff"/>
<rect x="220" y="151" width="1" height="1" fill="#fff"/>
<rect x="223" y="151" width="1" height="1" fill="#fff"/>
<rect x="226" y="151" width="1" height="1" fill="#fff"/>
<rect x="229" y="151" width="1" height="1" fill="#fff"/>
<rect x="232" y="151" width="1" height="1" fill="#fff"/>
<rect x="235" y="151" width="1" height="1" fill="#fff"/>
<rect x="238" y="151" width="1" height="1" fill="#fff"/>
<rect x="241" y="151" width="1" height="1" fill="#fff"/>
<rect x="244" y="151" width="1" height="1" fill="#fff"/>
<rect x="247" y="151" width="1" height="1" fill="#fff"/>
<rect x="250" y="151" width="1" height="1" fill="#fff"/>
<rect x="253" y="151" width="1" height="1" fill="#fff"/>
<rect x="82" y="153" width="4" height="5" fill="#fff"/>
<rect x="83" y="160" width="1" height="4" fill="#fff"/>
<rect x="87" y="153" width="5" height="5" fill="#fff"/>
<rect x="89" y="160" width="1" height="4" fill="#fff"/>
<rect x="93" y="153" width="4" height="5" fill="#fff"/>
<rect x="95" y="160" width="1" height="4" fill="#fff"/>
<rect x="99" y="153" width="5" height="5" fill="#fff"/>
<rect x="101" y="160" width="1" height="4" fill="#fff"/>
<rect x="105" y="153" width="4" height="5" fill="#fff"/>
<rect x="106" y="160" width="1" height="4" fill="#fff"/>
<rect x="111" y="153" width="5" height="5" fill="#fff"/>
<rect x="112" y="160" width="1" height="4" fill="#fff"/>
<rect x="117" y="153" width="4" height="5" fill="#fff"/>
<rect x="118" y="160" width="1" height="4" fill="#fff"/>
<rect x="123" y="153" width="4" height="5" fill="#fff"/>
<rect x="124" y="160" width="1" height="4" fill="#fff"/>
<rect x="128" y="153" width="4" height="5" fill="#fff"/>
<rect x="130" y="160" width="1" height="4" fill="#fff"/>
<rect x="134" y="153" width="5" height="5" fill="#fff"/>
<rect x="136" y="160" width="1" height="4" fill="#fff"/>
<rect x="140" y="153" width="4" height="5" fill="#fff"/>
<rect x="142" y="160" width="1" height="4" fill="#fff"/>
<rect x="146" y="153" width="5" height="5" fill="#fff"/>
<rect x="147" y="160" width="1" height="4" fill="#fff"/>
<rect x="152" y="153" width="4" height="5" fill="#fff"/>
<rect x="153" y="160" width="1" height="4" fill="#fff"/>
<rect x="158" y="153" width="5" height="5" fill="#fff"/>
<rect x="159" y="160" width="1" height="4" fill="#fff"/>
<rect x="164" y="153" width="4" height="5" fill="#fff"/>
<rect x="165" y="160" width="1" height="4" fill="#fff"/>
<rect x="169" y="153" width="5" height="5" fill="#fff"/>
<rect x="171" y="160" width="1" height="4" fill="#fff"/>
<rect x="175" y="153" width="4" height="5" fill="#fff"/>
<rect x="177" y="160" width="1" height="4" fill="#fff"/>
<rect x="181" y="153" width="5" height="5" fill="#fff"/>
<rect x="182" y="160" width="1" height="4" fill="#fff"/>
<rect x="187" y="153" width="4" height="5" fill="#fff"/>
<rect x="188" y="160" width="1" height="4" fill="#fff"/>
<rect x="193" y="153" width="5" height="5" fill="#fff"/>
<rect x="194" y="160" width="1" height="4" fill="#fff"/>
<rect x="199" y="153" width="4" height="5" fill="#fff"/>
<rect x="200" y="160" width="1" height="4" fill="#fff"/>
<rect x="205" y="153" width="5" height="5" fill="#fff"/>
<rect x="206" y="160" width="1" height="4" fill="#fff"/>
<rect x="211" y="153" width="4" height="5" fill="#fff"/>
<rect x="212" y="160" width="1" height="4" fill="#fff"/>
<rect x="217" y="153" width="5" height="5" fill="#fff"/>
<rect x="218" y="160" width="1" height="4" fill="#fff"/>
<rect x="223" y="153" width="4" height="5" fill="#fff"/>
<rect x="224" y="160" width="1" height="4" fill="#fff"/>
<rect x="229" y="153" width="5" height="5" fill="#fff"/>
<rect x="231" y="160" width="1" height="4" fill="#fff"/>
<rect x="235" y="153" width="4" height="5" fill="#fff"/>
<rect x="237" y="160" width="1" height="4" fill="#fff"/>
<rect x="241" y="153" width="5" height="5" fill="#fff"/>
<rect x="243" y="160" width="1" height="4" fill="#fff"/>
<rect x="247" y="153" width="4" height="5" fill="#fff"/>
<rect x="249" y="160" width="1" height="4" fill="#fff"/>
<rect x="252" y="153" width="1" height="5" fill="#fff"/>
<rect x="136" y="153" width="1" height="11" fill="#fff"/>
<rect x="218" y="153" width="2" height="11" fill="#fff"/>
<rect x="79" y="169" width="175" height="14" fill="#000"/>
<rect x="82" y="169" width="1" height="1" fill="#fff"/>
<rect x="85" y="169" width="1" height="1" fill="#fff"/>
<rect x="88" y="169" width="1" height="1" fill="#fff"/>
<rect x="91" y="169" width="1" height="1" fill="#fff"/>
<rect x="94" y="169" width="1" height="1" fill="#fff"/>
<rect x="97" y="169" width="1" height="1" fill="#fff"/>
<rect x="100" y="169" width="1" height="1" fill="#fff"/>
<rect x="103" y="169" width="1" height="1" fill="#fff"/>
<rect x="106" y="169" width="1" height="1" fill="#fff"/>
<rect x="109" y="169" width="1" height="1" fill="#fff"/>
<rect x="112" y="169" width="1" height="1" fill="#fff"/>
<rect x="115" y="169" width="1" height="1" fill="#fff"/>
<rect x="118" y="169" width="1" height="1" fill="#fff"/>
<rect x="121" y="169" width="1" height="1" fill="#fff"/>
<rect x="124" y="169" width="1" height="1" fill="#fff"/>
<rect x="127" y="169" width="1" height="1" fill="#fff"/>
<rect x="130" y="169" width="1" height="1" fill="#fff"/>
<rect x="133" y="169" width="1" height="1" fill="#fff"/>
<rect x="136" y="169" width="1" height="1" fill="#fff"/>
<rect x="139" y="169" width="1" height="1" fill="#fff"/>
<rect x="142" y="169" width="1" height="1" fill="#fff"/>
<rect x="145" y="169" width="1" height="1" fill="#fff"/>
<rect x="148" y="169" width="1" height="1" fill="#fff"/>
<rect x="151" y="169" width="1" height="1" fill="#fff"/>
<rect x="154" y="169" width="1" height="1" fill="#fff"/>
<rect x="157" y="169" width="1" height="1" fill="#fff"/>
<rect x="160" y="169" width="1" height="1" fill="#fff"/>
<rect x="163" y="169" width="1" height="1" fill="#fff"/>
<rect x="166" y="169" width="1" height="1" fill="#fff"/>
<rect x="169" y="169" width="1" height="1" fill="#fff"/>
<rect x="172" y="169" width="1" height="1" fill="#fff"/>
<rect x="175" y="169" width="1" height="1" fill="#fff"/>
<rect x="178" y="169" width="1" height="1" fill="#fff"/>
<rect x="181" y="169" width="1" height="1" fill="#fff"/>
<rect x="184" y="169" width="1" height="1" fill="#fff"/>
<rect x="187" y="169" width="1" height="1" fill="#fff"/>
<rect x="190" y="169" width="1" height="1" fill="#fff"/>
<rect x="193" y="169" width="1" height="1" fill="#fff"/>
<rect x="196" y="169" width="1" height="1" fill="#fff"/>
<rect x="199" y="169" width="1" height="1" fill="#fff"/>
<rect x="202" y="169" width="1" height="1" fill="#fff"/>
<rect x="205" y="169" width="1" height="1" fill="#fff"/>
<rect x="208" y="169" width="1" height="1" fill="#fff"/>
<rect x="211" y="169" width="1" height="1" fill="#fff"/>
<rect x="214" y="169" width="1" height="1" fill="#fff"/>
<rect x="217" y="169" width="1" height="1" fill="#fff"/>
<rect x="220" y="169" width="1" height="1" fill="#fff"/>
<rect x="223" y="169" width="1" height="1" fill="#fff"/>
<rect x="226" y="169" width="1" height="1" fill="#fff"/>
<rect x="229" y="169" width="1" height="1" fill="#fff"/>
<rect x="232" y="169" width="1" height="1" fill="#fff"/>
<rect x="235" y="169" width="1" height="1" fill="#fff"/>
<rect x="238" y="169" width="1" height="1" fill="#fff"/>
<rect x="241" y="169" width="1" height="1" fill="#fff"/>
<rect x="244" y="169" width="1" height="1" fill="#fff"/>
<rect x="247" y="169" width="1" height="1" fill="#fff"/>
<rect x="250" y="169" width="1" height="1" fill="#fff"/>
<rect x="253" y="169" width="1" height="1" fill="#fff"/>
<rect x="82" y="171" width="4" height="6" fill="#fff"/>
<rect x="83" y="178" width="1" height="4" fill="#fff"/>
<rect x="87" y="171" width="5" height="6" fill="#fff"/>
<rect x="89" y="178" width="1" height="4" fill="#fff"/>
<rect x="93" y="171" width="4" height="6" fill="#fff"/>
<rect x="95" y="178" width="1" height="4" fill="#fff"/>
<rect x="99" y="171" width="5" height="6" fill="#fff"/>
<rect x="101" y="178" width="1" height="4" fill="#fff"/>
<rect x="105" y="171" width="4" height="6" fill="#fff"/>
<rect x="106" y="178" width="1" height="4" fill="#fff"/>
<rect x="111" y="171" width="5" height="6" fill="#fff"/>
<rect x="112" y="178" width="1" height="4" fill="#fff"/>
<rect x="117" y="171" width="4" height="6" fill="#fff"/>
<rect x="118" y="178" width="1" height="4" fill="#fff"/>
<rect x="123" y="171" width="4" height="6" fill="#fff"/>
<rect x="124" y="178" width="1" height="4" fill="#fff"/>
<rect x="128" y="171" width="4" height="6" fill="#fff"/>
<rect x="130" y="178" width="1" height="4" fill="#fff"/>
<rect x="134" y="171" width="5" height="6" fill="#fff"/>
<rect x="136" y="178" width="1" height="4" fill="#fff"/>
<rect x="140" y="171" width="4" height="6" fill="#fff"/>
<rect x="142" y="178" width="1" height="4" fill="#fff"/>
<rect x="146" y="171" width="5" height="6" fill="#fff"/>
<rect x="147" y="178" width="1" height="4" fill="#fff"/>
<rect x="152" y="171" width="4" height="6" fill="#fff"/>
<rect x="153" y="178" width="1" height="4" fill="#fff"/>
<rect x="158" y="171" width="5" height="6" fill="#fff"/>
<rect x="159" y="178" width="1" height="4" fill="#fff"/>
<rect x="164" y="171" width="4" height="6" fill="#fff"/>
<rect x="165" y="178" width="1" height="4" fill="#fff"/>
<rect x="169" y="171" width="5" height="6" fill="#fff"/>
<rect x="171" y="178" width="1" height="4" fill="#fff"/>
<rect x="175" y="171" width="4" height="6" fill="#fff"/>
<rect x="177" y="178" width="1" height="4" fill="#fff"/>
<rect x="181" y="171" width="5" height="6" fill="#fff"/>
<rect x="182" y="178" width="1" height="4" fill="#fff"/>
<rect x="187" y="171" width="4" height="6" fill="#fff"/>
<rect x="188" y="178" width="1" height="4" fill="#fff"/>
<rect x="193" y="171" width="5" height="6" fill="#fff"/>
<rect x="194" y="178" width="1" height="4" fill="#fff"/>
<rect x="199" y="171" width="4" height="6" fill="#fff"/>
<rect x="200" y="178" width="1" height="4" fill="#fff"/>
<rect x="205" y="171" width="5" height="6" fill="#fff"/>
<rect x="206" y="178" width="1" height="4" fill="#fff"/>
<rect x="211" y="171" width="4" height="6" fill="#fff"/>
<rect x="212" y="178" width="1" height="4" fill="#fff"/>
<rect x="217" y="171" width="5" height="6" fill="#fff"/>
<rect x="218" y="178" width="1" height="4" fill="#fff"/>
<rect x="223" y="171" width="4" height="6" fill="#fff"/>
<rect x="224" y="178" width="1" height="4" fill="#fff"/>
<rect x="229" y="171" width="5" height="6" fill="#fff"/>
<rect x="231" y="178" width="1" height="4" fill="#fff"/>
<rect x="235" y="171" width="4" height="6" fill="#fff"/>
<rect x="237" y="178" width="1" height="4" fill="#fff"/>
<rect x="241" y="171" width="5" height="6" fill="#fff"/>
<rect x="243" y="178" width="1" height="4" fill="#fff"/>
<rect x="247" y="171" width="4" height="6" fill="#fff"/>
<rect x="249" y="178" width="1" height="4" fill="#fff"/>
<rect x="252" y="171" width="1" height="6" fill="#fff"/>
<rect x="136" y="171" width="1" height="11" fill="#fff"/>
<rect x="218" y="171" width="2" height="11" fill="#fff"/>
<rect x="79" y="193" width="175" height="14" fill="#000"/>
<rect x="82" y="193" width="1" height="1" fill="#fff"/>
<rect x="85" y="193" width="1" height="1" fill="#fff"/>
<rect x="88" y="193" width="1" height="1" fill="#fff"/>
<rect x="91" y="193" width="1" height="1" fill="#fff"/>
<rect x="94" y="193" width="1" height="1" fill="#fff"/>
<rect x="97" y="193" width="1" height="1" fill="#fff"/>
<rect x="100" y="193" width="1" height="1" fill="#fff"/>
<rect x="103" y="193" width="1" height="1" fill="#fff"/>
<rect x="106" y="193" width="1" height="1" fill="#fff"/>
<rect x="109" y="193" width="1" height="1" fill="#fff"/>
<rect x="112" y="193" width="1" height="1" fill="#fff"/>
<rect x="115" y="193" width="1" height="1" fill="#fff"/>
<rect x="118" y="193" width="1" height="1" fill="#fff"/>
<rect x="121" y="193" width="1" height="1" fill="#fff"/>
<rect x="124" y="193" width="1" height="1" fill="#fff"/>
<rect x="127" y="193" width="1" height="1" fill="#fff"/>
<rect x="130" y="193" width="1" height="1" fill="#fff"/>
<rect x="133" y="193" width="1" height="1" fill="#fff"/>
<rect x="136" y="193" width="1" height="1" fill="#fff"/>
<rect x="139" y="193" width="1" height="1" fill="#fff"/>
<rect x="142" y="193" width="1" height="1" fill="#fff"/>
<rect x="145" y="193" width="1" height="1" fill="#fff"/>
<rect x="148" y="193" width="1" height="1" fill="#fff"/>
<rect x="151" y="193" width="1" height="1" fill="#fff"/>
<rect x="154" y="193" width="1" height="1" fill="#fff"/>
<rect x="157" y="193" width="1" height="1" fill="#fff"/>
<rect x="160" y="193" width="1" height="1" fill="#fff"/>
<rect x="163" y="193" width="1" height="1" fill="#fff"/>
<rect x="166" y="193" width="1" height="1" fill="#fff"/>
<rect x="169" y="193" width="1" height="1" fill="#fff"/>
<rect x="172" y="193" width="1" height="1" fill="#fff"/>
<rect x="175" y="193" width="1" height="1" fill="#fff"/>
<rect x="178" y="193" width="1" height="1" fill="#fff"/>
<rect x="181" y="193" width="1" height="1" fill="#fff"/>
<rect x="184" y="193" width="1" height="1" fill="#fff"/>
<rect x="187" y="193" width="1" height="1" fill="#fff"/>
<rect x="190" y="193" width="1" height="1" fill="#fff"/>
<rect x="193" y="193" width="1" height="1" fill="#fff"/>
<rect x="196" y="193" width="1" height="1" fill="#fff"/>
<rect x="199" y="193" width="1" height="1" fill="#fff"/>
<rect x="202" y="193" width="1" height="1" fill="#fff"/>
<rect x="205" y="193" width="1" height="1" fill="#fff"/>
<rect x="208" y="193" width="1" height="1" fill="#fff"/>
<rect x="211" y="193" width="1" height="1" fill="#fff"/>
<rect x="214" y="193" width="1" height="1" fill="#fff"/>
<rect x="217" y="193" width="1" height="1" fill="#fff"/>
<rect x="220" y="193" width="1" height="1" fill="#fff"/>
<rect x="223" y="193" width="1" height="1" fill="#fff"/>
<rect x="226" y="193" width="1" height="1" fill="#fff"/>
<rect x="229" y="193" width="1" height="1" fill="#fff"/>
<rect x="232" y="193" width="1" height="1" fill="#fff"/>
<rect x="235" y="193" width="1" height="1" fill="#fff"/>
<rect x="238" y="193" width="1" height="1" fill="#fff"/>
<rect x="241" y="193" width="1" height="1" fill="#fff"/>
<rect x="244" y="193" width="1" height="1" fill="#fff"/>
<rect x="247" y="193" width="1" height="1" fill="#fff"/>
<rect x="250" y="193" width="1" height="1" fill="#fff"/>
<rect x="253" y="193" width="1" height="1" fill="#fff"/>
<rect x="82" y="195" width="4" height="5" fill="#fff"/>
<rect x="83" y="202" width="1" height="4" fill="#fff"/>
<rect x="87" y="195" width="5" height="5" fill="#fff"/>
<rect x="89" y="202" width="1" height="4" fill="#fff"/>
<rect x="93" y="195" width="4" height="5" fill="#fff"/>
<rect x="95" y="202" width="1" height="4" fill="#fff"/>
<rect x="99" y="195" width="5" height="5" fill="#fff"/>
<rect x="101" y="202" width="1" height="4" fill="#fff"/>
<rect x="105" y="195" width="4" height="5" fill="#fff"/>
<rect x="106" y="202" width="1" height="4" fill="#fff"/>
<rect x="111" y="195" width="5" height="5" fill="#fff"/>
<rect x="112" y="202" width="1" height="4" fill="#fff"/>
<rect x="117" y="195" width="4" height="5" fill="#fff"/>
<rect x="118" y="202" width="1" height="4" fill="#fff"/>
<rect x="123" y="195" width="4" height="5" fill="#fff"/>
<rect x="124" y="202" width="1" height="4" fill="#fff"/>
<rect x="128" y="195" width="4" height="5" fill="#fff"/>
<rect x="130" y="202" width="1" height="4" fill="#fff"/>
<rect x="134" y="195" width="5" height="5" fill="#fff"/>
<rect x="136" y="202" width="1" height="4" fill="#fff"/>
<rect x="140" y="195" width="4" height="5" fill="#fff"/>
<rect x="142" y="202" width="1" height="4" fill="#fff"/>
<rect x="146" y="195" width="5" height="5" fill="#fff"/>
<rect x="147" y="202" width="1" height="4" fill="#fff"/>
<rect x="152" y="195" width="4" height="5" fill="#fff"/>
<rect x="153" y="202" width="1" height="4" fill="#fff"/>
<rect x="158" y="195" width="5" height="5" fill="#fff"/>
<rect x="159" y="202" width="1" height="4" fill="#fff"/>
<rect x="164" y="195" width="4" height="5" fill="#fff"/>
<rect x="165" y="202" width="1" height="4" fill="#fff"/>
<rect x="169" y="195" width="5" height="5" fill="#fff"/>
<rect x="171" y="202" width="1" height="4" fill="#fff"/>
<rect x="175" y="195" width="4" height="5" fill="#fff"/>
<rect x="177" y="202" width="1" height="4" fill="#fff"/>
<rect x="181" y="195" width="5" height="5" fill="#fff"/>
<rect x="182" y="202" width="1" height="4" fill="#fff"/>
<rect x="187" y="195" width="4" height="5" fill="#fff"/>
<rect x="188" y="202" width="1" height="4" fill="#fff"/>
<rect x="193" y="195" width="5" height="5" fill="#fff"/>
<rect x="194" y="202" width="1" height="4" fill="#fff"/>
<rect x="199" y="195" width="4" height="5" fill="#fff"/>
<rect x="200" y="202" width="1" height="4" fill="#fff"/>
<rect x="205" y="195" width="5" height="5" fill="#fff"/>
<rect x="206" y="202" width="1" height="4" fill="#fff"/>
<rect x="211" y="195" width="4" height="5" fill="#fff"/>
<rect x="212" y="202" width="1" height="4" fill="#fff"/>
<rect x="217" y="195" width="5" height="5" fill="#fff"/>
<rect x="218" y="202" width="1" height="4" fill="#fff"/>
<rect x="223" y="195" width="4" height="5" fill="#fff"/>
<rect x="224" y="202" width="1" height="4" fill="#fff"/>
<rect x="229" y="195" width="5" height="5" fill="#fff"/>
<rect x="231" y="202" width="1" height="4" fill="#fff"/>
<rect x="235" y="195" width="4" height="5" fill="#fff"/>
<rect x="237" y="202" width="1" height="4" fill="#fff"/>
<rect x="241" y="195" width="5" height="5" fill="#fff"/>
<rect x="243" y="202" width="1" height="4" fill="#fff"/>
<rect x="247" y="195" width="4" height="5" fill="#fff"/>
<rect x="249" y="202" width="1" height="4" fill="#fff"/>
<rect x="252" y="195" width="1" height="5" fill="#fff"/>
<rect x="136" y="195" width="1" height="11" fill="#fff"/>
<rect x="218" y="195" width="2" height="11" fill="#fff"/>
<rect x="78" y="59" width="32" height="9" fill="#fff"/>
<rect x="79" y="60" width="30" height="8" fill="#000"/>
<rect x="80" y="61" width="28" height="6" fill="#fff"/>
<rect x="113" y="59" width="32" height="9" fill="#fff"/>
<rect x="114" y="60" width="30" height="8" fill="#000"/>
<rect x="115" y="61" width="28" height="6" fill="#fff"/>
<rect x="151" y="59" width="32" height="9" fill="#fff"/>
<rect x="152" y="60" width="30" height="8" fill="#000"/>
<rect x="153" y="61" width="28" height="6" fill="#fff"/>
<rect x="187" y="59" width="33" height="9" fill="#fff"/>
<rect x="188" y="60" width="31" height="8" fill="#000"/>
<rect x="189" y="61" width="29" height="6" fill="#fff"/>
<rect x="224" y="59" width="32" height="9" fill="#fff"/>
<rect x="225" y="60" width="30" height="8" fill="#000"/>
<rect x="226" y="61" width="28" height="6" fill="#fff"/>
<rect x="78" y="101" width="32" height="8" fill="#fff"/>
<rect x="79" y="102" width="30" height="7" fill="#000"/>
<rect x="80" y="103" width="28" height="5" fill="#fff"/>
<rect x="113" y="101" width="32" height="8" fill="#fff"/>
<rect x="114" y="102" width="30" height="7" fill="#000"/>
<rect x="115" y="103" width="28" height="5" fill="#fff"/>
<rect x="151" y="101" width="32" height="8" fill="#fff"/>
<rect x="152" y="102" width="30" height="7" fill="#000"/>
<rect x="153" y="103" width="28" height="5" fill="#fff"/>
<rect x="187" y="101" width="33" height="8" fill="#fff"/>
<rect x="188" y="102" width="31" height="7" fill="#000"/>
<rect x="189" y="103" width="29" height="5" fill="#fff"/>
<rect x="224" y="101" width="32" height="8" fill="#fff"/>
<rect x="225" y="102" width="30" height="7" fill="#000"/>
<rect x="226" y="103" width="28" height="5" fill="#fff"/>
<rect x="78" y="142" width="32" height="9" fill="#fff"/>
<rect x="79" y="143" width="30" height="8" fill="#000"/>
<rect x="80" y="144" width="28" height="6" fill="#fff"/>
<rect x="113" y="142" width="32" height="9" fill="#fff"/>
<rect x="114" y="143" width="30" height="8" fill="#000"/>
<rect x="115" y="144" width="28" height="6" fill="#fff"/>
<rect x="151" y="142" width="32" height="9" fill="#fff"/>
<rect x="152" y="143" width="30" height="8" fill="#000"/>
<rect x="153" y="144" width="28" height="6" fill="#fff"/>
<rect x="187" y="142" width="33" height="9" fill="#fff"/>
<rect x="188" y="143" width="31" height="8" fill="#000"/>
<rect x="189" y="144" width="29" height="6" fill="#fff"/>
<rect x="224" y="142" width="32" height="9" fill="#fff"/>
<rect x="225" y="143" width="30" height="8" fill="#000"/>
<rect x="226" y="144" width="28" height="6" fill="#fff"/>
<rect x="78" y="184" width="32" height="8" fill="#fff"/>
<rect x="79" y="185" width="30" height="7" fill="#000"/>
<rect x="80" y="186" width="28" height="5" fill="#fff"/>
<rect x="113" y="184" width="32" height="8" fill="#fff"/>
<rect x="114" y="185" width="30" height="7" fill="#000"/>
<rect x="115" y="186" width="28" height="5" fill="#fff"/>
<rect x="151" y="184" width="32" height="8" fill="#fff"/>
<rect x="152" y="185" width="30" height="7" fill="#000"/>
<rect x="153" y="186" width="28" height="5" fill="#fff"/>
<rect x="187" y="184" width="33" height="8" fill="#fff"/>
<rect x="188" y="185" width="31" height="7" fill="#000"/>
<rect x="189" y="186" width="29" height="5" fill="#fff"/>
<rect x="224" y="184" width="32" height="8" fill="#fff"/>
<rect x="225" y="185" width="30" height="7" fill="#000"/>
<rect x="226" y="186" width="28" height="5" fill="#fff"/>
<rect x="138" y="75" width="59" height="20" fill="#000"/>
<rect x="140" y="77" width="55" height="14" fill="#fff"/>
<text transform="translate(142.4,88) scale(0.78,1)" font-size="14" textLength="58.97" lengthAdjust="spacing">BANK 1</text>
<rect x="138" y="159" width="59" height="19" fill="#000"/>
<rect x="140" y="160" width="55" height="15" fill="#fff"/>
<text transform="translate(142.4,171) scale(0.78,1)" font-size="14" textLength="58.97" lengthAdjust="spacing">BANK 0</text>
<rect x="81" y="82" width="57" height="2" fill="#fff"/>
<rect x="16" y="39" width="7" height="14" fill="#000"/>
<rect x="17" y="40" width="5" height="1" fill="#fff"/>
<rect x="17" y="45" width="5" height="1" fill="#fff"/>
<rect x="17" y="51" width="5" height="1" fill="#fff"/>
<rect x="16" y="68" width="7" height="26" fill="#000"/>
<rect x="17" y="69" width="5" height="1" fill="#fff"/>
<rect x="17" y="74" width="5" height="2" fill="#fff"/>
<rect x="17" y="80" width="5" height="1" fill="#fff"/>
<rect x="17" y="86" width="5" height="1" fill="#fff"/>
<rect x="17" y="91" width="5" height="2" fill="#fff"/>
<rect x="18" y="88" width="3" height="2" fill="#fff"/>
<rect x="16" y="101" width="7" height="26" fill="#000"/>
<rect x="17" y="102" width="5" height="1" fill="#fff"/>
<rect x="17" y="107" width="5" height="2" fill="#fff"/>
<rect x="17" y="113" width="5" height="1" fill="#fff"/>
<rect x="17" y="119" width="5" height="1" fill="#fff"/>
<rect x="17" y="125" width="5" height="1" fill="#fff"/>
<rect x="18" y="121" width="3" height="3" fill="#fff"/>
<rect x="16" y="142" width="7" height="13" fill="#000"/>
<rect x="17" y="143" width="5" height="1" fill="#fff"/>
<rect x="17" y="148" width="5" height="1" fill="#fff"/>
<rect x="16" y="173" width="7" height="31" fill="#000"/>
<rect x="17" y="174" width="5" height="1" fill="#fff"/>
<rect x="17" y="179" width="5" height="2" fill="#fff"/>
<rect x="17" y="185" width="5" height="1" fill="#fff"/>
<rect x="17" y="191" width="5" height="1" fill="#fff"/>
<rect x="17" y="197" width="5" height="1" fill="#fff"/>
<rect x="17" y="202" width="5" height="1" fill="#fff"/>
<rect x="18" y="199" width="3" height="2" fill="#fff"/>
<rect x="16" y="293" width="7" height="20" fill="#000"/>
<rect x="17" y="294" width="5" height="1" fill="#fff"/>
<rect x="17" y="299" width="5" height="2" fill="#fff"/>
<rect x="17" y="305" width="5" height="1" fill="#fff"/>
<rect x="17" y="311" width="5" height="1" fill="#fff"/>
<rect x="18" y="307" width="3" height="3" fill="#fff"/>
<rect x="722" y="362" width="7" height="14" fill="#000"/>
<rect x="723" y="363" width="5" height="1" fill="#fff"/>
<rect x="723" y="368" width="5" height="1" fill="#fff"/>
<rect x="723" y="374" width="5" height="1" fill="#fff"/>
<rect x="741" y="362" width="7" height="26" fill="#000"/>
<rect x="742" y="369" width="5" height="1" fill="#fff"/>
<rect x="742" y="375" width="5" height="1" fill="#fff"/>
<rect x="742" y="380" width="5" height="2" fill="#fff"/>
<rect x="742" y="386" width="5" height="1" fill="#fff"/>
<rect x="743" y="365" width="3" height="3" fill="#fff"/>
<rect x="337" y="14" width="26" height="19" rx="3.5" ry="3.5" fill="#000" shape-rendering="geometricPrecision"/>
<rect x="339" y="16" width="22" height="15" rx="1.7" ry="1.7" fill="#fff" shape-rendering="geometricPrecision"/>
<text transform="translate(341.4,27) scale(0.78,1)" font-size="14" textLength="19.23" lengthAdjust="spacing">S1</text>
<rect x="48" y="36" width="33" height="19" rx="3.5" ry="3.5" fill="#000" shape-rendering="geometricPrecision"/>
<rect x="50" y="39" width="29" height="14" rx="1.7" ry="1.7" fill="#fff" shape-rendering="geometricPrecision"/>
<text transform="translate(52.4,49) scale(0.78,1)" font-size="14" textLength="28.85" lengthAdjust="spacing">JP8</text>
<rect x="42" y="72" width="38" height="19" rx="3.5" ry="3.5" fill="#000" shape-rendering="geometricPrecision"/>
<rect x="44" y="74" width="34" height="15" rx="1.7" ry="1.7" fill="#fff" shape-rendering="geometricPrecision"/>
<text transform="translate(45.4,84.5) scale(0.78,1)" font-size="14" textLength="37.82" lengthAdjust="spacing">JP10</text>
<rect x="48" y="104" width="32" height="18" rx="3.5" ry="3.5" fill="#000" shape-rendering="geometricPrecision"/>
<rect x="50" y="106" width="28" height="14" rx="1.7" ry="1.7" fill="#fff" shape-rendering="geometricPrecision"/>
<text transform="translate(52.4,116) scale(0.78,1)" font-size="14" textLength="28.85" lengthAdjust="spacing">JP7</text>
<rect x="42" y="139" width="38" height="19" rx="3.5" ry="3.5" fill="#000" shape-rendering="geometricPrecision"/>
<rect x="44" y="141" width="34" height="15" rx="1.7" ry="1.7" fill="#fff" shape-rendering="geometricPrecision"/>
<text transform="translate(46.4,152) scale(0.78,1)" font-size="14" textLength="37.18" lengthAdjust="spacing">JP11</text>
<rect x="48" y="180" width="32" height="18" rx="3.5" ry="3.5" fill="#000" shape-rendering="geometricPrecision"/>
<rect x="50" y="182" width="28" height="14" rx="1.7" ry="1.7" fill="#fff" shape-rendering="geometricPrecision"/>
<text transform="translate(52.4,192) scale(0.78,1)" font-size="14" textLength="28.85" lengthAdjust="spacing">JP9</text>
<rect x="38" y="294" width="33" height="19" rx="3.5" ry="3.5" fill="#000" shape-rendering="geometricPrecision"/>
<rect x="40" y="297" width="28" height="14" rx="1.7" ry="1.7" fill="#fff" shape-rendering="geometricPrecision"/>
<text transform="translate(42.4,307) scale(0.78,1)" font-size="14" textLength="27.56" lengthAdjust="spacing">JP5</text>
<rect x="234" y="343" width="33" height="19" rx="3.5" ry="3.5" fill="#000" shape-rendering="geometricPrecision"/>
<rect x="237" y="346" width="28" height="14" rx="1.7" ry="1.7" fill="#fff" shape-rendering="geometricPrecision"/>
<text transform="translate(238.4,357) scale(0.78,1)" font-size="14" textLength="31.41" lengthAdjust="spacing">TAG</text>
<rect x="397" y="377" width="34" height="19" rx="3.5" ry="3.5" fill="#000" shape-rendering="geometricPrecision"/>
<rect x="399" y="379" width="30" height="15" rx="1.7" ry="1.7" fill="#fff" shape-rendering="geometricPrecision"/>
<text transform="translate(401.4,390) scale(0.78,1)" font-size="14" textLength="29.49" lengthAdjust="spacing">JP6</text>
<rect x="368" y="453" width="50" height="19" rx="3.5" ry="3.5" fill="#000" shape-rendering="geometricPrecision"/>
<rect x="370" y="456" width="46" height="14" rx="1.7" ry="1.7" fill="#fff" shape-rendering="geometricPrecision"/>
<text transform="translate(370.4,466) scale(0.78,1)" font-size="14" textLength="58.97" lengthAdjust="spacing">CACHE</text>
<rect x="657" y="348" width="49" height="18" rx="3.5" ry="3.5" fill="#000" shape-rendering="geometricPrecision"/>
<rect x="659" y="350" width="45" height="14" rx="1.7" ry="1.7" fill="#fff" shape-rendering="geometricPrecision"/>
<text transform="translate(660.4,361) scale(0.78,1)" font-size="14" textLength="48.08" lengthAdjust="spacing">JP200</text>
<rect x="750" y="320" width="33" height="18" rx="3.5" ry="3.5" fill="#000" shape-rendering="geometricPrecision"/>
<rect x="752" y="322" width="29" height="14" rx="1.7" ry="1.7" fill="#fff" shape-rendering="geometricPrecision"/>
<text transform="translate(753.4,333) scale(0.78,1)" font-size="14" textLength="28.85" lengthAdjust="spacing">JP2</text>
<rect x="657" y="470" width="33" height="19" rx="3.5" ry="3.5" fill="#000" shape-rendering="geometricPrecision"/>
<rect x="659" y="472" width="29" height="15" rx="1.7" ry="1.7" fill="#fff" shape-rendering="geometricPrecision"/>
<text transform="translate(661.4,483) scale(0.78,1)" font-size="14" textLength="28.85" lengthAdjust="spacing">JP3</text>
<rect x="545" y="489" width="49" height="19" rx="3.5" ry="3.5" fill="#000" shape-rendering="geometricPrecision"/>
<rect x="547" y="491" width="44" height="14" rx="1.7" ry="1.7" fill="#fff" shape-rendering="geometricPrecision"/>
<text transform="translate(548.4,502) scale(0.78,1)" font-size="14" textLength="48.72" lengthAdjust="spacing">JP202</text>
<polygon points="26,45.9 27.5,45.3 30.84,44.53 37.44,43.1 48,41.5 49,41.5 49,48.7 48,48.7 37.44,48.3 30.84,47.71 27.5,47.3 26,46.7" fill="#000" shape-rendering="geometricPrecision"/>
<polygon points="39.94,46.012 47,43.6 50.5,43.5 50.5,46.7 47,46.6" fill="#fff" shape-rendering="geometricPrecision"/>
<polygon points="26,80.5 27.5,79.9 29.52,79.295 34.32,78.25 42,77.2 43,77.2 43,84.8 42,84.8 34.32,83.65 29.52,82.535 27.5,81.9 26,81.3" fill="#000" shape-rendering="geometricPrecision"/>
<polygon points="36.82,80.924 41,79.3 44.5,79.2 44.5,82.8 41,82.7" fill="#fff" shape-rendering="geometricPrecision"/>
<polygon points="26,113.3 27.5,112.7 30.84,112.11 37.44,111.1 48,110.1 49,110.1 49,116.3 48,116.3 37.44,115.8 30.84,115.14 27.5,114.7 26,114.1" fill="#000" shape-rendering="geometricPrecision"/>
<polygon points="39.94,113.58 47,112.2 50.5,112.1 50.5,114.3 47,114.2" fill="#fff" shape-rendering="geometricPrecision"/>
<polygon points="26,148.1 27.5,147.5 29.52,146.94 34.32,146 42,145.1 43,145.1 43,151.9 42,151.9 34.32,151 29.52,150.06 27.5,149.5 26,148.9" fill="#000" shape-rendering="geometricPrecision"/>
<polygon points="36.82,148.5 41,147.2 44.5,147.1 44.5,149.9 41,149.8" fill="#fff" shape-rendering="geometricPrecision"/>
<polygon points="26,188.4 27.5,187.8 30.84,187.27 37.44,186.4 48,185.6 49,185.6 49,192.8 48,192.8 37.44,191.6 30.84,190.45 27.5,189.8 26,189.2" fill="#000" shape-rendering="geometricPrecision"/>
<polygon points="39.94,188.896 47,187.7 50.5,187.6 50.5,190.8 47,190.7" fill="#fff" shape-rendering="geometricPrecision"/>
<polygon points="321,23.4 322.5,22.8 324.52,22.06 329.32,20.7 337,19.2 338,19.2 338,26.8 337,26.8 329.32,26.1 324.52,25.3 322.5,24.8 321,24.2" fill="#000" shape-rendering="geometricPrecision"/>
<polygon points="331.82,23.608 336,21.3 339.5,21.2 339.5,24.8 336,24.7" fill="#fff" shape-rendering="geometricPrecision"/>
<polygon points="23,302.1 24.5,301.5 26.3,301.03 30.8,300.3 38,299.7 39,299.7 39,308 38,308 30.8,306.05 26.3,304.375 24.5,303.5 23,302.9" fill="#000" shape-rendering="geometricPrecision"/>
<polygon points="33.3,302.824 37,301.8 40.5,301.7 40.5,306 37,305.9" fill="#fff" shape-rendering="geometricPrecision"/>
<polygon points="641,479.9 642.5,479.3 644.52,478.695 649.32,477.65 657,476.6 658,476.6 658,482.7 657,482.7 649.32,482.3 644.52,481.71 642.5,481.3 641,480.7" fill="#000" shape-rendering="geometricPrecision"/>
<polygon points="651.82,480.144 656,478.7 659.5,478.6 659.5,480.7 656,480.6" fill="#fff" shape-rendering="geometricPrecision"/>
<polygon points="410,394 417.5,394 415,412 413,412" fill="#000" shape-rendering="geometricPrecision"/>
<polygon points="412.5,393 415.3,393 414,403" fill="#fff" shape-rendering="geometricPrecision"/>
<polygon points="760,337 769,337 745,362 743.5,361" fill="#000" shape-rendering="geometricPrecision"/>
<polygon points="763.3,336.2 766.2,336.2 758.5,344.5" fill="#fff" shape-rendering="geometricPrecision"/>
<polygon points="704,353 723,368 722,369.5 704,361" fill="#000" shape-rendering="geometricPrecision"/>
<polygon points="703.5,355.6 710.5,361 703.5,358.6" fill="#fff" shape-rendering="geometricPrecision"/>
<polygon points="527,481.5 547,493 547,501" fill="#000" shape-rendering="geometricPrecision"/>
<polygon points="540,491.5 548,495 548,499.5" fill="#fff" shape-rendering="geometricPrecision"/>
<rect x="404" y="412" width="19" height="7" fill="#000"/>
<rect x="410" y="413" width="1" height="5" fill="#fff"/>
<rect x="416" y="413" width="1" height="5" fill="#fff"/>
<rect x="418" y="414" width="4" height="3" fill="#fff"/>
<rect x="419" y="415" width="2" height="1" fill="#fff"/>
<rect x="514" y="481" width="15" height="7" fill="#000"/>
<rect x="515" y="486" width="13" height="1" fill="#fff"/>
<rect x="515" y="482" width="1" height="5" fill="#fff"/>
<rect x="520" y="482" width="1" height="5" fill="#fff"/>
<rect x="526" y="482" width="1" height="5" fill="#fff"/>
<rect x="627" y="476" width="15" height="7" fill="#000"/>
<rect x="628" y="477" width="13" height="1" fill="#fff"/>
<rect x="628" y="477" width="1" height="5" fill="#fff"/>
<rect x="633" y="477" width="2" height="5" fill="#fff"/>
<rect x="639" y="477" width="1" height="5" fill="#fff"/>
<rect x="16" y="216" width="52" height="31" fill="#000"/>
<rect x="18" y="218" width="48" height="27" fill="#fff"/>
<path d="M18 222.5A4.5 4.5 0 0 1 22.5 218M61.5 218A4.5 4.5 0 0 1 66 222.5M66 240.5A4.5 4.5 0 0 1 61.5 245M22.5 245A4.5 4.5 0 0 1 18 240.5" fill="none" stroke="#000" stroke-width="1.1" shape-rendering="geometricPrecision"/>
<rect x="448" y="484" width="51" height="30" fill="#000"/>
<rect x="450" y="485" width="48" height="27" fill="#fff"/>
<path d="M450 489.5A4.5 4.5 0 0 1 454.5 485M493.5 485A4.5 4.5 0 0 1 498 489.5M498 507.5A4.5 4.5 0 0 1 493.5 512M454.5 512A4.5 4.5 0 0 1 450 507.5" fill="none" stroke="#000" stroke-width="1.1" shape-rendering="geometricPrecision"/>
<rect x="16" y="253" width="52" height="30" fill="#000"/>
<circle cx="21.3" cy="258.7" r="2.4" fill="#fff" shape-rendering="geometricPrecision"/>
<circle cx="62.5" cy="258.7" r="2.4" fill="#fff" shape-rendering="geometricPrecision"/>
<circle cx="21.3" cy="278.3" r="2.4" fill="#fff" shape-rendering="geometricPrecision"/>
<circle cx="62.5" cy="278.3" r="2.4" fill="#fff" shape-rendering="geometricPrecision"/>
<rect x="21" y="265" width="17" height="7" fill="#fff"/>
<rect x="43" y="265" width="18" height="7" fill="#fff"/>
<polygon points="68.5,265.5 64.5,268 68.5,270.5" fill="#fff" shape-rendering="geometricPrecision"/>
<rect x="83" y="259" width="26" height="18" rx="3.5" ry="3.5" fill="#000" shape-rendering="geometricPrecision"/>
<rect x="85" y="261" width="22" height="14" rx="1.7" ry="1.7" fill="#fff" shape-rendering="geometricPrecision"/>
<text transform="translate(86.9,272) scale(0.78,1)" font-size="14" textLength="19.87" lengthAdjust="spacing">Y1</text>
<polygon points="65.5,267.8 67,267.2 69.35,266.67 74.6,265.8 83,265 84,265 84,271.5 83,271.5 74.6,270.65 69.35,269.745 67,269.2 65.5,268.6" fill="#000" shape-rendering="geometricPrecision"/>
<polygon points="77.1,268.212 82,267.1 85.5,267 85.5,269.5 82,269.4" fill="#fff" shape-rendering="geometricPrecision"/>
<polygon points="62,307 142,307 142,387 65,387 62,384" fill="#000" shape-rendering="geometricPrecision"/>
<ellipse cx="66.6" cy="312.0" rx="1.6" ry="1.9" fill="#fff" shape-rendering="geometricPrecision"/>
<ellipse cx="72.5" cy="312.0" rx="1.6" ry="1.9" fill="#fff" shape-rendering="geometricPrecision"/>
<ellipse cx="78.4" cy="312.0" rx="1.6" ry="1.9" fill="#fff" shape-rendering="geometricPrecision"/>
<ellipse cx="84.3" cy="312.0" rx="1.6" ry="1.9" fill="#fff" shape-rendering="geometricPrecision"/>
<ellipse cx="90.2" cy="312.0" rx="1.6" ry="1.9" fill="#fff" shape-rendering="geometricPrecision"/>
<ellipse cx="96.1" cy="312.0" rx="1.6" ry="1.9" fill="#fff" shape-rendering="geometricPrecision"/>
<ellipse cx="102.0" cy="312.0" rx="1.6" ry="1.9" fill="#fff" shape-rendering="geometricPrecision"/>
<ellipse cx="107.9" cy="312.0" rx="1.6" ry="1.9" fill="#fff" shape-rendering="geometricPrecision"/>
<ellipse cx="113.8" cy="312.0" rx="1.6" ry="1.9" fill="#fff" shape-rendering="geometricPrecision"/>
<ellipse cx="119.7" cy="312.0" rx="1.6" ry="1.9" fill="#fff" shape-rendering="geometricPrecision"/>
<ellipse cx="125.6" cy="312.0" rx="1.6" ry="1.9" fill="#fff" shape-rendering="geometricPrecision"/>
<ellipse cx="131.5" cy="312.0" rx="1.6" ry="1.9" fill="#fff" shape-rendering="geometricPrecision"/>
<ellipse cx="137.4" cy="312.0" rx="1.6" ry="1.9" fill="#fff" shape-rendering="geometricPrecision"/>
<ellipse cx="66.6" cy="317.9" rx="1.6" ry="1.9" fill="#fff" shape-rendering="geometricPrecision"/>
<ellipse cx="72.5" cy="317.9" rx="1.6" ry="1.9" fill="#fff" shape-rendering="geometricPrecision"/>
<ellipse cx="78.4" cy="317.9" rx="1.6" ry="1.9" fill="#fff" shape-rendering="geometricPrecision"/>
<ellipse cx="84.3" cy="317.9" rx="1.6" ry="1.9" fill="#fff" shape-rendering="geometricPrecision"/>
<ellipse cx="90.2" cy="317.9" rx="1.6" ry="1.9" fill="#fff" shape-rendering="geometricPrecision"/>
<ellipse cx="96.1" cy="317.9" rx="1.6" ry="1.9" fill="#fff" shape-rendering="geometricPrecision"/>
<ellipse cx="102.0" cy="317.9" rx="1.6" ry="1.9" fill="#fff" shape-rendering="geometricPrecision"/>
<ellipse cx="107.9" cy="317.9" rx="1.6" ry="1.9" fill="#fff" shape-rendering="geometricPrecision"/>
<ellipse cx="113.8" cy="317.9" rx="1.6" ry="1.9" fill="#fff" shape-rendering="geometricPrecision"/>
<ellipse cx="119.7" cy="317.9" rx="1.6" ry="1.9" fill="#fff" shape-rendering="geometricPrecision"/>
<ellipse cx="125.6" cy="317.9" rx="1.6" ry="1.9" fill="#fff" shape-rendering="geometricPrecision"/>
<ellipse cx="131.5" cy="317.9" rx="1.6" ry="1.9" fill="#fff" shape-rendering="geometricPrecision"/>
<ellipse cx="137.4" cy="317.9" rx="1.6" ry="1.9" fill="#fff" shape-rendering="geometricPrecision"/>
<ellipse cx="66.6" cy="323.7" rx="1.6" ry="1.9" fill="#fff" shape-rendering="geometricPrecision"/>
<ellipse cx="72.5" cy="323.7" rx="1.6" ry="1.9" fill="#fff" shape-rendering="geometricPrecision"/>
<ellipse cx="78.4" cy="323.7" rx="1.6" ry="1.9" fill="#fff" shape-rendering="geometricPrecision"/>
<ellipse cx="84.3" cy="323.7" rx="1.6" ry="1.9" fill="#fff" shape-rendering="geometricPrecision"/>
<ellipse cx="90.2" cy="323.7" rx="1.6" ry="1.9" fill="#fff" shape-rendering="geometricPrecision"/>
<ellipse cx="96.1" cy="323.7" rx="1.6" ry="1.9" fill="#fff" shape-rendering="geometricPrecision"/>
<ellipse cx="102.0" cy="323.7" rx="1.6" ry="1.9" fill="#fff" shape-rendering="geometricPrecision"/>
<ellipse cx="107.9" cy="323.7" rx="1.6" ry="1.9" fill="#fff" shape-rendering="geometricPrecision"/>
<ellipse cx="113.8" cy="323.7" rx="1.6" ry="1.9" fill="#fff" shape-rendering="geometricPrecision"/>
<ellipse cx="119.7" cy="323.7" rx="1.6" ry="1.9" fill="#fff" shape-rendering="geometricPrecision"/>
<ellipse cx="125.6" cy="323.7" rx="1.6" ry="1.9" fill="#fff" shape-rendering="geometricPrecision"/>
<ellipse cx="131.5" cy="323.7" rx="1.6" ry="1.9" fill="#fff" shape-rendering="geometricPrecision"/>
<ellipse cx="137.4" cy="323.7" rx="1.6" ry="1.9" fill="#fff" shape-rendering="geometricPrecision"/>
<ellipse cx="66.6" cy="329.6" rx="1.6" ry="1.9" fill="#fff" shape-rendering="geometricPrecision"/>
<ellipse cx="72.5" cy="329.6" rx="1.6" ry="1.9" fill="#fff" shape-rendering="geometricPrecision"/>
<ellipse cx="78.4" cy="329.6" rx="1.6" ry="1.9" fill="#fff" shape-rendering="geometricPrecision"/>
<ellipse cx="125.6" cy="329.6" rx="1.6" ry="1.9" fill="#fff" shape-rendering="geometricPrecision"/>
<ellipse cx="131.5" cy="329.6" rx="1.6" ry="1.9" fill="#fff" shape-rendering="geometricPrecision"/>
<ellipse cx="137.4" cy="329.6" rx="1.6" ry="1.9" fill="#fff" shape-rendering="geometricPrecision"/>
<ellipse cx="66.6" cy="335.4" rx="1.6" ry="1.9" fill="#fff" shape-rendering="geometricPrecision"/>
<ellipse cx="72.5" cy="335.4" rx="1.6" ry="1.9" fill="#fff" shape-rendering="geometricPrecision"/>
<ellipse cx="78.4" cy="335.4" rx="1.6" ry="1.9" fill="#fff" shape-rendering="geometricPrecision"/>
<ellipse cx="125.6" cy="335.4" rx="1.6" ry="1.9" fill="#fff" shape-rendering="geometricPrecision"/>
<ellipse cx="131.5" cy="335.4" rx="1.6" ry="1.9" fill="#fff" shape-rendering="geometricPrecision"/>
<ellipse cx="137.4" cy="335.4" rx="1.6" ry="1.9" fill="#fff" shape-rendering="geometricPrecision"/>
<ellipse cx="66.6" cy="341.2" rx="1.6" ry="1.9" fill="#fff" shape-rendering="geometricPrecision"/>
<ellipse cx="72.5" cy="341.2" rx="1.6" ry="1.9" fill="#fff" shape-rendering="geometricPrecision"/>
<ellipse cx="78.4" cy="341.2" rx="1.6" ry="1.9" fill="#fff" shape-rendering="geometricPrecision"/>
<ellipse cx="125.6" cy="341.2" rx="1.6" ry="1.9" fill="#fff" shape-rendering="geometricPrecision"/>
<ellipse cx="131.5" cy="341.2" rx="1.6" ry="1.9" fill="#fff" shape-rendering="geometricPrecision"/>
<ellipse cx="137.4" cy="341.2" rx="1.6" ry="1.9" fill="#fff" shape-rendering="geometricPrecision"/>
<ellipse cx="66.6" cy="347.1" rx="1.6" ry="1.9" fill="#fff" shape-rendering="geometricPrecision"/>
<ellipse cx="72.5" cy="347.1" rx="1.6" ry="1.9" fill="#fff" shape-rendering="geometricPrecision"/>
<ellipse cx="78.4" cy="347.1" rx="1.6" ry="1.9" fill="#fff" shape-rendering="geometricPrecision"/>
<ellipse cx="125.6" cy="347.1" rx="1.6" ry="1.9" fill="#fff" shape-rendering="geometricPrecision"/>
<ellipse cx="131.5" cy="347.1" rx="1.6" ry="1.9" fill="#fff" shape-rendering="geometricPrecision"/>
<ellipse cx="137.4" cy="347.1" rx="1.6" ry="1.9" fill="#fff" shape-rendering="geometricPrecision"/>
<ellipse cx="66.6" cy="352.9" rx="1.6" ry="1.9" fill="#fff" shape-rendering="geometricPrecision"/>
<ellipse cx="72.5" cy="352.9" rx="1.6" ry="1.9" fill="#fff" shape-rendering="geometricPrecision"/>
<ellipse cx="78.4" cy="352.9" rx="1.6" ry="1.9" fill="#fff" shape-rendering="geometricPrecision"/>
<ellipse cx="125.6" cy="352.9" rx="1.6" ry="1.9" fill="#fff" shape-rendering="geometricPrecision"/>
<ellipse cx="131.5" cy="352.9" rx="1.6" ry="1.9" fill="#fff" shape-rendering="geometricPrecision"/>
<ellipse cx="137.4" cy="352.9" rx="1.6" ry="1.9" fill="#fff" shape-rendering="geometricPrecision"/>
<ellipse cx="66.6" cy="358.8" rx="1.6" ry="1.9" fill="#fff" shape-rendering="geometricPrecision"/>
<ellipse cx="72.5" cy="358.8" rx="1.6" ry="1.9" fill="#fff" shape-rendering="geometricPrecision"/>
<ellipse cx="78.4" cy="358.8" rx="1.6" ry="1.9" fill="#fff" shape-rendering="geometricPrecision"/>
<ellipse cx="125.6" cy="358.8" rx="1.6" ry="1.9" fill="#fff" shape-rendering="geometricPrecision"/>
<ellipse cx="131.5" cy="358.8" rx="1.6" ry="1.9" fill="#fff" shape-rendering="geometricPrecision"/>
<ellipse cx="137.4" cy="358.8" rx="1.6" ry="1.9" fill="#fff" shape-rendering="geometricPrecision"/>
<ellipse cx="66.6" cy="364.6" rx="1.6" ry="1.9" fill="#fff" shape-rendering="geometricPrecision"/>
<ellipse cx="72.5" cy="364.6" rx="1.6" ry="1.9" fill="#fff" shape-rendering="geometricPrecision"/>
<ellipse cx="78.4" cy="364.6" rx="1.6" ry="1.9" fill="#fff" shape-rendering="geometricPrecision"/>
<ellipse cx="125.6" cy="364.6" rx="1.6" ry="1.9" fill="#fff" shape-rendering="geometricPrecision"/>
<ellipse cx="131.5" cy="364.6" rx="1.6" ry="1.9" fill="#fff" shape-rendering="geometricPrecision"/>
<ellipse cx="137.4" cy="364.6" rx="1.6" ry="1.9" fill="#fff" shape-rendering="geometricPrecision"/>
<ellipse cx="66.6" cy="370.5" rx="1.6" ry="1.9" fill="#fff" shape-rendering="geometricPrecision"/>
<ellipse cx="72.5" cy="370.5" rx="1.6" ry="1.9" fill="#fff" shape-rendering="geometricPrecision"/>
<ellipse cx="78.4" cy="370.5" rx="1.6" ry="1.9" fill="#fff" shape-rendering="geometricPrecision"/>
<ellipse cx="84.3" cy="370.5" rx="1.6" ry="1.9" fill="#fff" shape-rendering="geometricPrecision"/>
<ellipse cx="90.2" cy="370.5" rx="1.6" ry="1.9" fill="#fff" shape-rendering="geometricPrecision"/>
<ellipse cx="96.1" cy="370.5" rx="1.6" ry="1.9" fill="#fff" shape-rendering="geometricPrecision"/>
<ellipse cx="102.0" cy="370.5" rx="1.6" ry="1.9" fill="#fff" shape-rendering="geometricPrecision"/>
<ellipse cx="107.9" cy="370.5" rx="1.6" ry="1.9" fill="#fff" shape-rendering="geometricPrecision"/>
<ellipse cx="113.8" cy="370.5" rx="1.6" ry="1.9" fill="#fff" shape-rendering="geometricPrecision"/>
<ellipse cx="119.7" cy="370.5" rx="1.6" ry="1.9" fill="#fff" shape-rendering="geometricPrecision"/>
<ellipse cx="125.6" cy="370.5" rx="1.6" ry="1.9" fill="#fff" shape-rendering="geometricPrecision"/>
<ellipse cx="131.5" cy="370.5" rx="1.6" ry="1.9" fill="#fff" shape-rendering="geometricPrecision"/>
<ellipse cx="137.4" cy="370.5" rx="1.6" ry="1.9" fill="#fff" shape-rendering="geometricPrecision"/>
<ellipse cx="66.6" cy="376.4" rx="1.6" ry="1.9" fill="#fff" shape-rendering="geometricPrecision"/>
<ellipse cx="72.5" cy="376.4" rx="1.6" ry="1.9" fill="#fff" shape-rendering="geometricPrecision"/>
<ellipse cx="78.4" cy="376.4" rx="1.6" ry="1.9" fill="#fff" shape-rendering="geometricPrecision"/>
<ellipse cx="84.3" cy="376.4" rx="1.6" ry="1.9" fill="#fff" shape-rendering="geometricPrecision"/>
<ellipse cx="90.2" cy="376.4" rx="1.6" ry="1.9" fill="#fff" shape-rendering="geometricPrecision"/>
<ellipse cx="96.1" cy="376.4" rx="1.6" ry="1.9" fill="#fff" shape-rendering="geometricPrecision"/>
<ellipse cx="102.0" cy="376.4" rx="1.6" ry="1.9" fill="#fff" shape-rendering="geometricPrecision"/>
<ellipse cx="107.9" cy="376.4" rx="1.6" ry="1.9" fill="#fff" shape-rendering="geometricPrecision"/>
<ellipse cx="113.8" cy="376.4" rx="1.6" ry="1.9" fill="#fff" shape-rendering="geometricPrecision"/>
<ellipse cx="119.7" cy="376.4" rx="1.6" ry="1.9" fill="#fff" shape-rendering="geometricPrecision"/>
<ellipse cx="125.6" cy="376.4" rx="1.6" ry="1.9" fill="#fff" shape-rendering="geometricPrecision"/>
<ellipse cx="131.5" cy="376.4" rx="1.6" ry="1.9" fill="#fff" shape-rendering="geometricPrecision"/>
<ellipse cx="137.4" cy="376.4" rx="1.6" ry="1.9" fill="#fff" shape-rendering="geometricPrecision"/>
<ellipse cx="66.6" cy="382.2" rx="1.6" ry="1.9" fill="#fff" shape-rendering="geometricPrecision"/>
<ellipse cx="72.5" cy="382.2" rx="1.6" ry="1.9" fill="#fff" shape-rendering="geometricPrecision"/>
<ellipse cx="78.4" cy="382.2" rx="1.6" ry="1.9" fill="#fff" shape-rendering="geometricPrecision"/>
<ellipse cx="84.3" cy="382.2" rx="1.6" ry="1.9" fill="#fff" shape-rendering="geometricPrecision"/>
<ellipse cx="90.2" cy="382.2" rx="1.6" ry="1.9" fill="#fff" shape-rendering="geometricPrecision"/>
<ellipse cx="96.1" cy="382.2" rx="1.6" ry="1.9" fill="#fff" shape-rendering="geometricPrecision"/>
<ellipse cx="102.0" cy="382.2" rx="1.6" ry="1.9" fill="#fff" shape-rendering="geometricPrecision"/>
<ellipse cx="107.9" cy="382.2" rx="1.6" ry="1.9" fill="#fff" shape-rendering="geometricPrecision"/>
<ellipse cx="113.8" cy="382.2" rx="1.6" ry="1.9" fill="#fff" shape-rendering="geometricPrecision"/>
<ellipse cx="119.7" cy="382.2" rx="1.6" ry="1.9" fill="#fff" shape-rendering="geometricPrecision"/>
<ellipse cx="125.6" cy="382.2" rx="1.6" ry="1.9" fill="#fff" shape-rendering="geometricPrecision"/>
<ellipse cx="131.5" cy="382.2" rx="1.6" ry="1.9" fill="#fff" shape-rendering="geometricPrecision"/>
<ellipse cx="137.4" cy="382.2" rx="1.6" ry="1.9" fill="#fff" shape-rendering="geometricPrecision"/>
<rect x="84" y="330" width="35" height="35" fill="#fff"/>
<rect x="85" y="338" width="33" height="19" rx="5" ry="5" fill="#000" shape-rendering="geometricPrecision"/>
<rect x="88" y="340" width="28" height="15" rx="3.2" ry="3.2" fill="#fff" shape-rendering="geometricPrecision"/>
<text transform="translate(89.4,351) scale(0.78,1)" font-size="14" textLength="32.69" lengthAdjust="spacing">NPU</text>
<circle cx="88.5" cy="360.5" r="2.3" fill="#000" shape-rendering="geometricPrecision"/>
<rect x="38" y="294" width="33" height="19" rx="3.5" ry="3.5" fill="#000" shape-rendering="geometricPrecision"/>
<rect x="40" y="297" width="28" height="14" rx="1.7" ry="1.7" fill="#fff" shape-rendering="geometricPrecision"/>
<text transform="translate(42.4,307) scale(0.78,1)" font-size="14" textLength="27.56" lengthAdjust="spacing">JP5</text>
<polygon points="23,302.1 24.5,301.5 26.3,301.03 30.8,300.3 38,299.7 39,299.7 39,308 38,308 30.8,306.05 26.3,304.375 24.5,303.5 23,302.9" fill="#000" shape-rendering="geometricPrecision"/>
<polygon points="33.3,302.824 37,301.8 40.5,301.7 40.5,306 37,305.9" fill="#fff" shape-rendering="geometricPrecision"/>
<polygon points="65,398 134,398 140,404 140,473 65,473" fill="#000" shape-rendering="geometricPrecision"/>
<circle cx="132.3" cy="405.7" r="3.4" fill="#fff" shape-rendering="geometricPrecision"/>
<rect x="89" y="428" width="28" height="14" fill="#fff"/>
<text transform="translate(89.9,439) scale(0.78,1)" font-size="13.5" textLength="33.97" lengthAdjust="spacing">CPU</text>
<polygon points="200,269 257,269 257,271 260,271 260,273 263,273 263,331 259,331 259,335 203,335 203,331 197,331 197,274 200,274" fill="#000" shape-rendering="geometricPrecision" style="shape-rendering:crispEdges"/>
<rect x="205" y="269" width="1" height="3" fill="#fff"/>
<rect x="208" y="269" width="1" height="3" fill="#fff"/>
<rect x="211" y="269" width="1" height="3" fill="#fff"/>
<rect x="214" y="269" width="1" height="3" fill="#fff"/>
<rect x="226" y="269" width="1" height="3" fill="#fff"/>
<rect x="228" y="269" width="1" height="3" fill="#fff"/>
<rect x="231" y="269" width="1" height="3" fill="#fff"/>
<rect x="243" y="269" width="1" height="3" fill="#fff"/>
<rect x="246" y="269" width="1" height="3" fill="#fff"/>
<rect x="248" y="269" width="1" height="3" fill="#fff"/>
<rect x="251" y="269" width="1" height="3" fill="#fff"/>
<rect x="205" y="332" width="1" height="3" fill="#fff"/>
<rect x="208" y="332" width="1" height="3" fill="#fff"/>
<rect x="219" y="332" width="1" height="3" fill="#fff"/>
<rect x="222" y="332" width="1" height="3" fill="#fff"/>
<rect x="225" y="332" width="1" height="3" fill="#fff"/>
<rect x="236" y="332" width="1" height="3" fill="#fff"/>
<rect x="239" y="332" width="1" height="3" fill="#fff"/>
<rect x="242" y="332" width="1" height="3" fill="#fff"/>
<rect x="257" y="332" width="1" height="3" fill="#fff"/>
<rect x="197" y="279" width="3" height="1" fill="#fff"/>
<rect x="197" y="283" width="3" height="1" fill="#fff"/>
<rect x="197" y="286" width="3" height="1" fill="#fff"/>
<rect x="197" y="301" width="3" height="1" fill="#fff"/>
<rect x="197" y="304" width="3" height="1" fill="#fff"/>
<rect x="197" y="314" width="3" height="1" fill="#fff"/>
<rect x="197" y="317" width="3" height="1" fill="#fff"/>
<rect x="197" y="320" width="3" height="1" fill="#fff"/>
<rect x="197" y="323" width="3" height="1" fill="#fff"/>
<rect x="260" y="279" width="3" height="1" fill="#fff"/>
<rect x="260" y="282" width="3" height="1" fill="#fff"/>
<rect x="260" y="296" width="3" height="1" fill="#fff"/>
<rect x="260" y="298" width="3" height="1" fill="#fff"/>
<rect x="260" y="309" width="3" height="1" fill="#fff"/>
<rect x="260" y="312" width="3" height="1" fill="#fff"/>
<rect x="260" y="315" width="3" height="1" fill="#fff"/>
<rect x="260" y="326" width="3" height="1" fill="#fff"/>
<rect x="260" y="329" width="3" height="1" fill="#fff"/>
<ellipse cx="253" cy="279" rx="2.2" ry="2.2" fill="#fff" shape-rendering="geometricPrecision"/>
<polygon points="303,269 360,269 360,271 363,271 363,273 366,273 366,331 362,331 362,335 306,335 306,331 300,331 300,274 303,274" fill="#000" shape-rendering="geometricPrecision" style="shape-rendering:crispEdges"/>
<rect x="304" y="269" width="1" height="3" fill="#fff"/>
<rect x="306" y="269" width="1" height="3" fill="#fff"/>
<rect x="309" y="269" width="1" height="3" fill="#fff"/>
<rect x="312" y="269" width="1" height="3" fill="#fff"/>
<rect x="314" y="269" width="1" height="3" fill="#fff"/>
<rect x="326" y="269" width="1" height="3" fill="#fff"/>
<rect x="328" y="269" width="1" height="3" fill="#fff"/>
<rect x="331" y="269" width="1" height="3" fill="#fff"/>
<rect x="343" y="269" width="1" height="3" fill="#fff"/>
<rect x="345" y="269" width="1" height="3" fill="#fff"/>
<rect x="348" y="269" width="1" height="3" fill="#fff"/>
<rect x="317" y="332" width="1" height="3" fill="#fff"/>
<rect x="320" y="332" width="1" height="3" fill="#fff"/>
<rect x="322" y="332" width="1" height="3" fill="#fff"/>
<rect x="325" y="332" width="1" height="3" fill="#fff"/>
<rect x="337" y="332" width="1" height="3" fill="#fff"/>
<rect x="339" y="332" width="1" height="3" fill="#fff"/>
<rect x="342" y="332" width="1" height="3" fill="#fff"/>
<rect x="354" y="332" width="1" height="3" fill="#fff"/>
<rect x="356" y="332" width="1" height="3" fill="#fff"/>
<rect x="359" y="332" width="1" height="3" fill="#fff"/>
<rect x="361" y="332" width="1" height="3" fill="#fff"/>
<rect x="300" y="279" width="3" height="1" fill="#fff"/>
<rect x="300" y="283" width="3" height="1" fill="#fff"/>
<rect x="300" y="286" width="3" height="1" fill="#fff"/>
<rect x="300" y="301" width="3" height="1" fill="#fff"/>
<rect x="300" y="303" width="3" height="1" fill="#fff"/>
<rect x="300" y="314" width="3" height="1" fill="#fff"/>
<rect x="300" y="317" width="3" height="1" fill="#fff"/>
<rect x="300" y="320" width="3" height="1" fill="#fff"/>
<rect x="300" y="322" width="3" height="1" fill="#fff"/>
<rect x="363" y="279" width="3" height="1" fill="#fff"/>
<rect x="363" y="296" width="3" height="1" fill="#fff"/>
<rect x="363" y="298" width="3" height="1" fill="#fff"/>
<rect x="363" y="309" width="3" height="1" fill="#fff"/>
<rect x="363" y="312" width="3" height="1" fill="#fff"/>
<rect x="363" y="315" width="3" height="1" fill="#fff"/>
<rect x="363" y="326" width="3" height="1" fill="#fff"/>
<rect x="363" y="329" width="3" height="1" fill="#fff"/>
<ellipse cx="355.3" cy="279" rx="2.7" ry="2.1" fill="#fff" shape-rendering="geometricPrecision"/>
<polygon points="444,412 501,412 501,414 504,414 504,416 507,416 507,474 503,474 503,478 447,478 447,474 441,474 441,417 444,417" fill="#000" shape-rendering="geometricPrecision" style="shape-rendering:crispEdges"/>
<rect x="452" y="412" width="1" height="3" fill="#fff"/>
<rect x="455" y="412" width="1" height="3" fill="#fff"/>
<rect x="458" y="412" width="1" height="3" fill="#fff"/>
<rect x="461" y="412" width="1" height="3" fill="#fff"/>
<rect x="473" y="412" width="1" height="3" fill="#fff"/>
<rect x="475" y="412" width="1" height="3" fill="#fff"/>
<rect x="478" y="412" width="1" height="3" fill="#fff"/>
<rect x="490" y="412" width="1" height="3" fill="#fff"/>
<rect x="492" y="412" width="1" height="3" fill="#fff"/>
<rect x="495" y="412" width="1" height="3" fill="#fff"/>
<rect x="449" y="475" width="1" height="3" fill="#fff"/>
<rect x="452" y="475" width="1" height="3" fill="#fff"/>
<rect x="467" y="475" width="1" height="3" fill="#fff"/>
<rect x="469" y="475" width="1" height="3" fill="#fff"/>
<rect x="472" y="475" width="1" height="3" fill="#fff"/>
<rect x="483" y="475" width="1" height="3" fill="#fff"/>
<rect x="486" y="475" width="1" height="3" fill="#fff"/>
<rect x="489" y="475" width="1" height="3" fill="#fff"/>
<rect x="441" y="419" width="3" height="1" fill="#fff"/>
<rect x="441" y="422" width="3" height="1" fill="#fff"/>
<rect x="441" y="426" width="3" height="1" fill="#fff"/>
<rect x="441" y="437" width="3" height="1" fill="#fff"/>
<rect x="441" y="440" width="3" height="1" fill="#fff"/>
<rect x="441" y="444" width="3" height="1" fill="#fff"/>
<rect x="441" y="454" width="3" height="1" fill="#fff"/>
<rect x="441" y="457" width="3" height="1" fill="#fff"/>
<rect x="441" y="460" width="3" height="1" fill="#fff"/>
<rect x="441" y="471" width="3" height="1" fill="#fff"/>
<rect x="441" y="474" width="3" height="1" fill="#fff"/>
<rect x="504" y="421" width="3" height="1" fill="#fff"/>
<rect x="504" y="432" width="3" height="1" fill="#fff"/>
<rect x="504" y="435" width="3" height="1" fill="#fff"/>
<rect x="504" y="438" width="3" height="1" fill="#fff"/>
<rect x="504" y="450" width="3" height="1" fill="#fff"/>
<rect x="504" y="452" width="3" height="1" fill="#fff"/>
<rect x="504" y="455" width="3" height="1" fill="#fff"/>
<rect x="504" y="466" width="3" height="1" fill="#fff"/>
<rect x="504" y="468" width="3" height="1" fill="#fff"/>
<rect x="504" y="471" width="3" height="1" fill="#fff"/>
<ellipse cx="497" cy="421.5" rx="2.2" ry="2.5" fill="#fff" shape-rendering="geometricPrecision"/>
<polyline points="172.5,377 176.5,369.5 246,369.5 250.5,364.5 255,369.5 322,369.5 328,378.5" fill="none" stroke="#000" stroke-width="1" shape-rendering="geometricPrecision"/>
<rect x="173" y="382" width="65" height="26" fill="#000"/>
<rect x="175" y="385" width="3" height="5" fill="#fff"/>
<rect x="175" y="401" width="3" height="5" fill="#fff"/>
<rect x="181" y="385" width="4" height="5" fill="#fff"/>
<rect x="181" y="401" width="4" height="5" fill="#fff"/>
<rect x="186" y="385" width="3" height="5" fill="#fff"/>
<rect x="186" y="401" width="3" height="5" fill="#fff"/>
<rect x="192" y="385" width="3" height="5" fill="#fff"/>
<rect x="192" y="401" width="3" height="5" fill="#fff"/>
<rect x="198" y="385" width="4" height="5" fill="#fff"/>
<rect x="198" y="401" width="4" height="5" fill="#fff"/>
<rect x="203" y="385" width="3" height="5" fill="#fff"/>
<rect x="203" y="401" width="3" height="5" fill="#fff"/>
<rect x="209" y="385" width="3" height="5" fill="#fff"/>
<rect x="209" y="401" width="3" height="5" fill="#fff"/>
<rect x="215" y="385" width="4" height="5" fill="#fff"/>
<rect x="215" y="401" width="4" height="5" fill="#fff"/>
<rect x="220" y="385" width="3" height="5" fill="#fff"/>
<rect x="220" y="401" width="3" height="5" fill="#fff"/>
<rect x="226" y="385" width="3" height="5" fill="#fff"/>
<rect x="226" y="401" width="3" height="5" fill="#fff"/>
<rect x="232" y="385" width="4" height="5" fill="#fff"/>
<rect x="232" y="401" width="4" height="5" fill="#fff"/>
<rect x="177" y="393" width="12" height="5" fill="#fff"/>
<rect x="222" y="393" width="9" height="5" fill="#fff"/>
<polygon points="238.5,392.9 236,395.5 238.5,398.1" fill="#fff" shape-rendering="geometricPrecision"/>
<rect x="191" y="388" width="28" height="14" fill="#fff"/>
<rect x="191" y="386" width="28" height="2" fill="#000"/>
<rect x="191" y="402" width="28" height="5" fill="#000"/>
<rect x="192" y="385" width="3" height="1" fill="#fff"/>
<rect x="192" y="404" width="3" height="2" fill="#fff"/>
<rect x="198" y="385" width="3" height="1" fill="#fff"/>
<rect x="198" y="404" width="3" height="2" fill="#fff"/>
<rect x="204" y="385" width="3" height="1" fill="#fff"/>
<rect x="204" y="404" width="3" height="2" fill="#fff"/>
<rect x="210" y="385" width="3" height="1" fill="#fff"/>
<rect x="210" y="404" width="3" height="2" fill="#fff"/>
<rect x="215" y="385" width="3" height="1" fill="#fff"/>
<rect x="215" y="404" width="3" height="2" fill="#fff"/>
<text transform="translate(194.4,398) scale(0.78,1)" font-size="12.5" textLength="28.85" lengthAdjust="spacing">U16</text>
<rect x="173" y="410" width="84" height="24" fill="#000"/>
<rect x="175" y="412" width="3" height="5" fill="#fff"/>
<rect x="175" y="427" width="3" height="5" fill="#fff"/>
<rect x="181" y="412" width="4" height="5" fill="#fff"/>
<rect x="181" y="427" width="4" height="5" fill="#fff"/>
<rect x="187" y="412" width="3" height="5" fill="#fff"/>
<rect x="187" y="427" width="3" height="5" fill="#fff"/>
<rect x="193" y="412" width="3" height="5" fill="#fff"/>
<rect x="193" y="427" width="3" height="5" fill="#fff"/>
<rect x="198" y="412" width="4" height="5" fill="#fff"/>
<rect x="198" y="427" width="4" height="5" fill="#fff"/>
<rect x="204" y="412" width="3" height="5" fill="#fff"/>
<rect x="204" y="427" width="3" height="5" fill="#fff"/>
<rect x="210" y="412" width="3" height="5" fill="#fff"/>
<rect x="210" y="427" width="3" height="5" fill="#fff"/>
<rect x="216" y="412" width="4" height="5" fill="#fff"/>
<rect x="216" y="427" width="4" height="5" fill="#fff"/>
<rect x="222" y="412" width="3" height="5" fill="#fff"/>
<rect x="222" y="427" width="3" height="5" fill="#fff"/>
<rect x="228" y="412" width="3" height="5" fill="#fff"/>
<rect x="228" y="427" width="3" height="5" fill="#fff"/>
<rect x="234" y="412" width="4" height="5" fill="#fff"/>
<rect x="234" y="427" width="4" height="5" fill="#fff"/>
<rect x="239" y="412" width="3" height="5" fill="#fff"/>
<rect x="239" y="427" width="3" height="5" fill="#fff"/>
<rect x="245" y="412" width="3" height="5" fill="#fff"/>
<rect x="245" y="427" width="3" height="5" fill="#fff"/>
<rect x="251" y="412" width="4" height="5" fill="#fff"/>
<rect x="251" y="427" width="4" height="5" fill="#fff"/>
<rect x="178" y="420" width="32" height="5" fill="#fff"/>
<rect x="216" y="420" width="33" height="5" fill="#fff"/>
<polygon points="257.5,419.9 254.4,422.5 257.5,425.1" fill="#fff" shape-rendering="geometricPrecision"/>
<rect x="173" y="436" width="84" height="25" fill="#000"/>
<rect x="175" y="438" width="3" height="5" fill="#fff"/>
<rect x="175" y="453" width="3" height="6" fill="#fff"/>
<rect x="181" y="438" width="4" height="5" fill="#fff"/>
<rect x="181" y="453" width="4" height="6" fill="#fff"/>
<rect x="187" y="438" width="3" height="5" fill="#fff"/>
<rect x="187" y="453" width="3" height="6" fill="#fff"/>
<rect x="193" y="438" width="3" height="5" fill="#fff"/>
<rect x="193" y="453" width="3" height="6" fill="#fff"/>
<rect x="198" y="438" width="4" height="5" fill="#fff"/>
<rect x="198" y="453" width="4" height="6" fill="#fff"/>
<rect x="204" y="438" width="3" height="5" fill="#fff"/>
<rect x="204" y="453" width="3" height="6" fill="#fff"/>
<rect x="210" y="438" width="3" height="5" fill="#fff"/>
<rect x="210" y="453" width="3" height="6" fill="#fff"/>
<rect x="216" y="438" width="4" height="5" fill="#fff"/>
<rect x="216" y="453" width="4" height="6" fill="#fff"/>
<rect x="222" y="438" width="3" height="5" fill="#fff"/>
<rect x="222" y="453" width="3" height="6" fill="#fff"/>
<rect x="228" y="438" width="3" height="5" fill="#fff"/>
<rect x="228" y="453" width="3" height="6" fill="#fff"/>
<rect x="234" y="438" width="4" height="5" fill="#fff"/>
<rect x="234" y="453" width="4" height="6" fill="#fff"/>
<rect x="239" y="438" width="3" height="5" fill="#fff"/>
<rect x="239" y="453" width="3" height="6" fill="#fff"/>
<rect x="245" y="438" width="3" height="5" fill="#fff"/>
<rect x="245" y="453" width="3" height="6" fill="#fff"/>
<rect x="251" y="438" width="4" height="5" fill="#fff"/>
<rect x="251" y="453" width="4" height="6" fill="#fff"/>
<rect x="178" y="446" width="32" height="5" fill="#fff"/>
<rect x="216" y="446" width="33" height="5" fill="#fff"/>
<polygon points="257.5,445.9 254.4,448.5 257.5,451.1" fill="#fff" shape-rendering="geometricPrecision"/>
<rect x="173" y="462" width="84" height="25" fill="#000"/>
<rect x="175" y="464" width="3" height="5" fill="#fff"/>
<rect x="175" y="479" width="3" height="5" fill="#fff"/>
<rect x="181" y="464" width="4" height="5" fill="#fff"/>
<rect x="181" y="479" width="4" height="5" fill="#fff"/>
<rect x="187" y="464" width="3" height="5" fill="#fff"/>
<rect x="187" y="479" width="3" height="5" fill="#fff"/>
<rect x="193" y="464" width="3" height="5" fill="#fff"/>
<rect x="193" y="479" width="3" height="5" fill="#fff"/>
<rect x="198" y="464" width="4" height="5" fill="#fff"/>
<rect x="198" y="479" width="4" height="5" fill="#fff"/>
<rect x="204" y="464" width="3" height="5" fill="#fff"/>
<rect x="204" y="479" width="3" height="5" fill="#fff"/>
<rect x="210" y="464" width="3" height="5" fill="#fff"/>
<rect x="210" y="479" width="3" height="5" fill="#fff"/>
<rect x="216" y="464" width="4" height="5" fill="#fff"/>
<rect x="216" y="479" width="4" height="5" fill="#fff"/>
<rect x="222" y="464" width="3" height="5" fill="#fff"/>
<rect x="222" y="479" width="3" height="5" fill="#fff"/>
<rect x="228" y="464" width="3" height="5" fill="#fff"/>
<rect x="228" y="479" width="3" height="5" fill="#fff"/>
<rect x="234" y="464" width="4" height="5" fill="#fff"/>
<rect x="234" y="479" width="4" height="5" fill="#fff"/>
<rect x="239" y="464" width="3" height="5" fill="#fff"/>
<rect x="239" y="479" width="3" height="5" fill="#fff"/>
<rect x="245" y="464" width="3" height="5" fill="#fff"/>
<rect x="245" y="479" width="3" height="5" fill="#fff"/>
<rect x="251" y="464" width="4" height="5" fill="#fff"/>
<rect x="251" y="479" width="4" height="5" fill="#fff"/>
<rect x="178" y="472" width="32" height="5" fill="#fff"/>
<rect x="216" y="472" width="33" height="5" fill="#fff"/>
<polygon points="257.5,471.9 254.4,474.5 257.5,477.1" fill="#fff" shape-rendering="geometricPrecision"/>
<rect x="173" y="488" width="84" height="25" fill="#000"/>
<rect x="175" y="490" width="3" height="5" fill="#fff"/>
<rect x="175" y="505" width="3" height="5" fill="#fff"/>
<rect x="181" y="490" width="4" height="5" fill="#fff"/>
<rect x="181" y="505" width="4" height="5" fill="#fff"/>
<rect x="187" y="490" width="3" height="5" fill="#fff"/>
<rect x="187" y="505" width="3" height="5" fill="#fff"/>
<rect x="193" y="490" width="3" height="5" fill="#fff"/>
<rect x="193" y="505" width="3" height="5" fill="#fff"/>
<rect x="198" y="490" width="4" height="5" fill="#fff"/>
<rect x="198" y="505" width="4" height="5" fill="#fff"/>
<rect x="204" y="490" width="3" height="5" fill="#fff"/>
<rect x="204" y="505" width="3" height="5" fill="#fff"/>
<rect x="210" y="490" width="3" height="5" fill="#fff"/>
<rect x="210" y="505" width="3" height="5" fill="#fff"/>
<rect x="216" y="490" width="4" height="5" fill="#fff"/>
<rect x="216" y="505" width="4" height="5" fill="#fff"/>
<rect x="222" y="490" width="3" height="5" fill="#fff"/>
<rect x="222" y="505" width="3" height="5" fill="#fff"/>
<rect x="228" y="490" width="3" height="5" fill="#fff"/>
<rect x="228" y="505" width="3" height="5" fill="#fff"/>
<rect x="234" y="490" width="4" height="5" fill="#fff"/>
<rect x="234" y="505" width="4" height="5" fill="#fff"/>
<rect x="239" y="490" width="3" height="5" fill="#fff"/>
<rect x="239" y="505" width="3" height="5" fill="#fff"/>
<rect x="245" y="490" width="3" height="5" fill="#fff"/>
<rect x="245" y="505" width="3" height="5" fill="#fff"/>
<rect x="251" y="490" width="4" height="5" fill="#fff"/>
<rect x="251" y="505" width="4" height="5" fill="#fff"/>
<rect x="178" y="498" width="32" height="5" fill="#fff"/>
<rect x="216" y="498" width="33" height="5" fill="#fff"/>
<polygon points="257.5,497.9 254.4,500.5 257.5,503.1" fill="#fff" shape-rendering="geometricPrecision"/>
<rect x="173" y="461" width="84" height="1" fill="#fff"/>
<rect x="262" y="382" width="65" height="26" fill="#000"/>
<rect x="265" y="385" width="3" height="5" fill="#fff"/>
<rect x="265" y="401" width="3" height="5" fill="#fff"/>
<rect x="271" y="385" width="4" height="5" fill="#fff"/>
<rect x="271" y="401" width="4" height="5" fill="#fff"/>
<rect x="276" y="385" width="3" height="5" fill="#fff"/>
<rect x="276" y="401" width="3" height="5" fill="#fff"/>
<rect x="282" y="385" width="3" height="5" fill="#fff"/>
<rect x="282" y="401" width="3" height="5" fill="#fff"/>
<rect x="288" y="385" width="4" height="5" fill="#fff"/>
<rect x="288" y="401" width="4" height="5" fill="#fff"/>
<rect x="293" y="385" width="3" height="5" fill="#fff"/>
<rect x="293" y="401" width="3" height="5" fill="#fff"/>
<rect x="299" y="385" width="3" height="5" fill="#fff"/>
<rect x="299" y="401" width="3" height="5" fill="#fff"/>
<rect x="305" y="385" width="4" height="5" fill="#fff"/>
<rect x="305" y="401" width="4" height="5" fill="#fff"/>
<rect x="310" y="385" width="3" height="5" fill="#fff"/>
<rect x="310" y="401" width="3" height="5" fill="#fff"/>
<rect x="316" y="385" width="3" height="5" fill="#fff"/>
<rect x="316" y="401" width="3" height="5" fill="#fff"/>
<rect x="322" y="385" width="4" height="5" fill="#fff"/>
<rect x="322" y="401" width="4" height="5" fill="#fff"/>
<rect x="266" y="393" width="13" height="5" fill="#fff"/>
<rect x="311" y="393" width="9" height="5" fill="#fff"/>
<polygon points="327.5,392.9 325,395.5 327.5,398.1" fill="#fff" shape-rendering="geometricPrecision"/>
<rect x="281" y="388" width="28" height="14" fill="#fff"/>
<rect x="281" y="386" width="28" height="2" fill="#000"/>
<rect x="281" y="402" width="28" height="5" fill="#000"/>
<rect x="282" y="385" width="3" height="1" fill="#fff"/>
<rect x="282" y="404" width="3" height="2" fill="#fff"/>
<rect x="288" y="385" width="3" height="1" fill="#fff"/>
<rect x="288" y="404" width="3" height="2" fill="#fff"/>
<rect x="294" y="385" width="3" height="1" fill="#fff"/>
<rect x="294" y="404" width="3" height="2" fill="#fff"/>
<rect x="300" y="385" width="3" height="1" fill="#fff"/>
<rect x="300" y="404" width="3" height="2" fill="#fff"/>
<rect x="305" y="385" width="3" height="1" fill="#fff"/>
<rect x="305" y="404" width="3" height="2" fill="#fff"/>
<text transform="translate(284.4,398) scale(0.78,1)" font-size="12.5" textLength="28.85" lengthAdjust="spacing">U15</text>
<rect x="262" y="410" width="85" height="24" fill="#000"/>
<rect x="265" y="412" width="3" height="5" fill="#fff"/>
<rect x="265" y="427" width="3" height="5" fill="#fff"/>
<rect x="271" y="412" width="4" height="5" fill="#fff"/>
<rect x="271" y="427" width="4" height="5" fill="#fff"/>
<rect x="277" y="412" width="3" height="5" fill="#fff"/>
<rect x="277" y="427" width="3" height="5" fill="#fff"/>
<rect x="283" y="412" width="3" height="5" fill="#fff"/>
<rect x="283" y="427" width="3" height="5" fill="#fff"/>
<rect x="288" y="412" width="4" height="5" fill="#fff"/>
<rect x="288" y="427" width="4" height="5" fill="#fff"/>
<rect x="294" y="412" width="3" height="5" fill="#fff"/>
<rect x="294" y="427" width="3" height="5" fill="#fff"/>
<rect x="300" y="412" width="3" height="5" fill="#fff"/>
<rect x="300" y="427" width="3" height="5" fill="#fff"/>
<rect x="306" y="412" width="4" height="5" fill="#fff"/>
<rect x="306" y="427" width="4" height="5" fill="#fff"/>
<rect x="312" y="412" width="3" height="5" fill="#fff"/>
<rect x="312" y="427" width="3" height="5" fill="#fff"/>
<rect x="318" y="412" width="3" height="5" fill="#fff"/>
<rect x="318" y="427" width="3" height="5" fill="#fff"/>
<rect x="324" y="412" width="4" height="5" fill="#fff"/>
<rect x="324" y="427" width="4" height="5" fill="#fff"/>
<rect x="329" y="412" width="3" height="5" fill="#fff"/>
<rect x="329" y="427" width="3" height="5" fill="#fff"/>
<rect x="335" y="412" width="3" height="5" fill="#fff"/>
<rect x="335" y="427" width="3" height="5" fill="#fff"/>
<rect x="341" y="412" width="4" height="5" fill="#fff"/>
<rect x="341" y="427" width="4" height="5" fill="#fff"/>
<rect x="268" y="420" width="32" height="5" fill="#fff"/>
<rect x="305" y="420" width="34" height="5" fill="#fff"/>
<polygon points="347.5,419.9 344.4,422.5 347.5,425.1" fill="#fff" shape-rendering="geometricPrecision"/>
<rect x="262" y="436" width="85" height="25" fill="#000"/>
<rect x="265" y="438" width="3" height="5" fill="#fff"/>
<rect x="265" y="453" width="3" height="6" fill="#fff"/>
<rect x="271" y="438" width="4" height="5" fill="#fff"/>
<rect x="271" y="453" width="4" height="6" fill="#fff"/>
<rect x="277" y="438" width="3" height="5" fill="#fff"/>
<rect x="277" y="453" width="3" height="6" fill="#fff"/>
<rect x="283" y="438" width="3" height="5" fill="#fff"/>
<rect x="283" y="453" width="3" height="6" fill="#fff"/>
<rect x="288" y="438" width="4" height="5" fill="#fff"/>
<rect x="288" y="453" width="4" height="6" fill="#fff"/>
<rect x="294" y="438" width="3" height="5" fill="#fff"/>
<rect x="294" y="453" width="3" height="6" fill="#fff"/>
<rect x="300" y="438" width="3" height="5" fill="#fff"/>
<rect x="300" y="453" width="3" height="6" fill="#fff"/>
<rect x="306" y="438" width="4" height="5" fill="#fff"/>
<rect x="306" y="453" width="4" height="6" fill="#fff"/>
<rect x="312" y="438" width="3" height="5" fill="#fff"/>
<rect x="312" y="453" width="3" height="6" fill="#fff"/>
<rect x="318" y="438" width="3" height="5" fill="#fff"/>
<rect x="318" y="453" width="3" height="6" fill="#fff"/>
<rect x="324" y="438" width="4" height="5" fill="#fff"/>
<rect x="324" y="453" width="4" height="6" fill="#fff"/>
<rect x="329" y="438" width="3" height="5" fill="#fff"/>
<rect x="329" y="453" width="3" height="6" fill="#fff"/>
<rect x="335" y="438" width="3" height="5" fill="#fff"/>
<rect x="335" y="453" width="3" height="6" fill="#fff"/>
<rect x="341" y="438" width="4" height="5" fill="#fff"/>
<rect x="341" y="453" width="4" height="6" fill="#fff"/>
<rect x="268" y="446" width="32" height="5" fill="#fff"/>
<rect x="305" y="446" width="34" height="5" fill="#fff"/>
<polygon points="347.5,445.9 344.4,448.5 347.5,451.1" fill="#fff" shape-rendering="geometricPrecision"/>
<rect x="262" y="462" width="85" height="25" fill="#000"/>
<rect x="265" y="464" width="3" height="5" fill="#fff"/>
<rect x="265" y="479" width="3" height="5" fill="#fff"/>
<rect x="271" y="464" width="4" height="5" fill="#fff"/>
<rect x="271" y="479" width="4" height="5" fill="#fff"/>
<rect x="277" y="464" width="3" height="5" fill="#fff"/>
<rect x="277" y="479" width="3" height="5" fill="#fff"/>
<rect x="283" y="464" width="3" height="5" fill="#fff"/>
<rect x="283" y="479" width="3" height="5" fill="#fff"/>
<rect x="288" y="464" width="4" height="5" fill="#fff"/>
<rect x="288" y="479" width="4" height="5" fill="#fff"/>
<rect x="294" y="464" width="3" height="5" fill="#fff"/>
<rect x="294" y="479" width="3" height="5" fill="#fff"/>
<rect x="300" y="464" width="3" height="5" fill="#fff"/>
<rect x="300" y="479" width="3" height="5" fill="#fff"/>
<rect x="306" y="464" width="4" height="5" fill="#fff"/>
<rect x="306" y="479" width="4" height="5" fill="#fff"/>
<rect x="312" y="464" width="3" height="5" fill="#fff"/>
<rect x="312" y="479" width="3" height="5" fill="#fff"/>
<rect x="318" y="464" width="3" height="5" fill="#fff"/>
<rect x="318" y="479" width="3" height="5" fill="#fff"/>
<rect x="324" y="464" width="4" height="5" fill="#fff"/>
<rect x="324" y="479" width="4" height="5" fill="#fff"/>
<rect x="329" y="464" width="3" height="5" fill="#fff"/>
<rect x="329" y="479" width="3" height="5" fill="#fff"/>
<rect x="335" y="464" width="3" height="5" fill="#fff"/>
<rect x="335" y="479" width="3" height="5" fill="#fff"/>
<rect x="341" y="464" width="4" height="5" fill="#fff"/>
<rect x="341" y="479" width="4" height="5" fill="#fff"/>
<rect x="268" y="472" width="32" height="5" fill="#fff"/>
<rect x="305" y="472" width="34" height="5" fill="#fff"/>
<polygon points="347.5,471.9 344.4,474.5 347.5,477.1" fill="#fff" shape-rendering="geometricPrecision"/>
<rect x="262" y="488" width="85" height="25" fill="#000"/>
<rect x="265" y="490" width="3" height="5" fill="#fff"/>
<rect x="265" y="505" width="3" height="5" fill="#fff"/>
<rect x="271" y="490" width="4" height="5" fill="#fff"/>
<rect x="271" y="505" width="4" height="5" fill="#fff"/>
<rect x="277" y="490" width="3" height="5" fill="#fff"/>
<rect x="277" y="505" width="3" height="5" fill="#fff"/>
<rect x="283" y="490" width="3" height="5" fill="#fff"/>
<rect x="283" y="505" width="3" height="5" fill="#fff"/>
<rect x="288" y="490" width="4" height="5" fill="#fff"/>
<rect x="288" y="505" width="4" height="5" fill="#fff"/>
<rect x="294" y="490" width="3" height="5" fill="#fff"/>
<rect x="294" y="505" width="3" height="5" fill="#fff"/>
<rect x="300" y="490" width="3" height="5" fill="#fff"/>
<rect x="300" y="505" width="3" height="5" fill="#fff"/>
<rect x="306" y="490" width="4" height="5" fill="#fff"/>
<rect x="306" y="505" width="4" height="5" fill="#fff"/>
<rect x="312" y="490" width="3" height="5" fill="#fff"/>
<rect x="312" y="505" width="3" height="5" fill="#fff"/>
<rect x="318" y="490" width="3" height="5" fill="#fff"/>
<rect x="318" y="505" width="3" height="5" fill="#fff"/>
<rect x="324" y="490" width="4" height="5" fill="#fff"/>
<rect x="324" y="505" width="4" height="5" fill="#fff"/>
<rect x="329" y="490" width="3" height="5" fill="#fff"/>
<rect x="329" y="505" width="3" height="5" fill="#fff"/>
<rect x="335" y="490" width="3" height="5" fill="#fff"/>
<rect x="335" y="505" width="3" height="5" fill="#fff"/>
<rect x="341" y="490" width="4" height="5" fill="#fff"/>
<rect x="341" y="505" width="4" height="5" fill="#fff"/>
<rect x="268" y="498" width="32" height="5" fill="#fff"/>
<rect x="305" y="498" width="34" height="5" fill="#fff"/>
<polygon points="347.5,497.9 344.4,500.5 347.5,503.1" fill="#fff" shape-rendering="geometricPrecision"/>
<rect x="262" y="461" width="85" height="1" fill="#fff"/>
<rect x="185" y="452" width="59" height="19" fill="#000"/>
<rect x="187" y="454" width="55" height="14" fill="#fff"/>
<text transform="translate(188.9,465) scale(0.78,1)" font-size="13" textLength="60.90" lengthAdjust="spacing">BANK 0</text>
<rect x="275" y="452" width="59" height="19" fill="#000"/>
<rect x="277" y="454" width="55" height="14" fill="#fff"/>
<text transform="translate(279.4,465) scale(0.78,1)" font-size="13" textLength="60.26" lengthAdjust="spacing">BANK 1</text>
<rect x="173" y="461" width="12" height="1" fill="#fff"/>
<rect x="244" y="461" width="13" height="1" fill="#fff"/>
<rect x="262" y="461" width="13" height="1" fill="#fff"/>
<rect x="334" y="461" width="13" height="1" fill="#fff"/>
<polyline points="352,410.5 359.5,416 359.5,457.5 364.5,462.3 359.5,467 359.5,505 352,511.5" fill="none" stroke="#000" stroke-width="1" shape-rendering="geometricPrecision"/>
<rect x="571" y="369" width="88" height="42" fill="#000"/>
<rect x="573" y="371" width="3" height="1" fill="#fff"/>
<rect x="573" y="408" width="3" height="1" fill="#fff"/>
<rect x="579" y="371" width="3" height="1" fill="#fff"/>
<rect x="579" y="408" width="3" height="1" fill="#fff"/>
<rect x="585" y="371" width="3" height="1" fill="#fff"/>
<rect x="585" y="408" width="3" height="1" fill="#fff"/>
<rect x="591" y="371" width="3" height="1" fill="#fff"/>
<rect x="591" y="408" width="3" height="1" fill="#fff"/>
<rect x="596" y="371" width="3" height="1" fill="#fff"/>
<rect x="596" y="408" width="3" height="1" fill="#fff"/>
<rect x="602" y="371" width="3" height="1" fill="#fff"/>
<rect x="602" y="408" width="3" height="1" fill="#fff"/>
<rect x="608" y="371" width="3" height="1" fill="#fff"/>
<rect x="608" y="408" width="3" height="1" fill="#fff"/>
<rect x="614" y="371" width="3" height="1" fill="#fff"/>
<rect x="614" y="408" width="3" height="1" fill="#fff"/>
<rect x="620" y="371" width="3" height="1" fill="#fff"/>
<rect x="620" y="408" width="3" height="1" fill="#fff"/>
<rect x="626" y="371" width="3" height="1" fill="#fff"/>
<rect x="626" y="408" width="3" height="1" fill="#fff"/>
<rect x="632" y="371" width="3" height="1" fill="#fff"/>
<rect x="632" y="408" width="3" height="1" fill="#fff"/>
<rect x="637" y="371" width="3" height="1" fill="#fff"/>
<rect x="637" y="408" width="3" height="1" fill="#fff"/>
<rect x="643" y="371" width="3" height="1" fill="#fff"/>
<rect x="643" y="408" width="3" height="1" fill="#fff"/>
<rect x="649" y="371" width="3" height="1" fill="#fff"/>
<rect x="649" y="408" width="3" height="1" fill="#fff"/>
<rect x="655" y="371" width="3" height="1" fill="#fff"/>
<rect x="655" y="408" width="3" height="1" fill="#fff"/>
<rect x="657" y="384" width="2" height="12" fill="#fff"/>
<rect x="595" y="383" width="40" height="14" fill="#fff"/>
<text transform="translate(599.4,394.7) scale(0.78,1)" font-size="13.5" textLength="40.38" lengthAdjust="spacing">BIOS</text>
<rect x="571" y="426" width="126" height="43" fill="#000"/>
<rect x="573" y="428" width="3" height="1" fill="#fff"/>
<rect x="579" y="428" width="3" height="1" fill="#fff"/>
<rect x="585" y="428" width="3" height="1" fill="#fff"/>
<rect x="591" y="428" width="3" height="1" fill="#fff"/>
<rect x="596" y="428" width="3" height="1" fill="#fff"/>
<rect x="602" y="428" width="3" height="1" fill="#fff"/>
<rect x="608" y="428" width="3" height="1" fill="#fff"/>
<rect x="614" y="428" width="3" height="1" fill="#fff"/>
<rect x="620" y="428" width="3" height="1" fill="#fff"/>
<rect x="626" y="428" width="3" height="1" fill="#fff"/>
<rect x="632" y="428" width="3" height="1" fill="#fff"/>
<rect x="637" y="428" width="3" height="1" fill="#fff"/>
<rect x="643" y="428" width="3" height="1" fill="#fff"/>
<rect x="649" y="428" width="3" height="1" fill="#fff"/>
<rect x="655" y="428" width="3" height="1" fill="#fff"/>
<rect x="661" y="428" width="3" height="1" fill="#fff"/>
<rect x="667" y="428" width="3" height="1" fill="#fff"/>
<rect x="672" y="428" width="3" height="1" fill="#fff"/>
<rect x="678" y="428" width="3" height="1" fill="#fff"/>
<rect x="684" y="428" width="3" height="1" fill="#fff"/>
<rect x="690" y="428" width="3" height="1" fill="#fff"/>
<rect x="696" y="442" width="1" height="12" fill="#fff"/>
<path d="M620 440h28v12.5a2.5 2.5 0 0 1-2.5 2.5h-23a2.5 2.5 0 0 1-2.5-2.5z" fill="#fff" shape-rendering="geometricPrecision"/>
<text transform="translate(621.4,451) scale(0.78,1)" font-size="13.5" textLength="33.97" lengthAdjust="spacing">KBD</text>
<rect x="627" y="490" width="114" height="25" fill="#000"/>
<rect x="628" y="491" width="112" height="23" fill="#fff"/>
<rect x="627" y="498" width="114" height="1" fill="#000"/>
<rect x="631" y="493" width="3" height="1" fill="#000"/>
<rect x="629" y="494" width="7" height="3" fill="#000"/>
<rect x="630" y="495" width="5" height="1" fill="#fff"/>
<rect x="631" y="497" width="3" height="1" fill="#000"/>
<rect x="629" y="501" width="7" height="2" fill="#000"/>
<rect x="640" y="493" width="3" height="1" fill="#000"/>
<rect x="638" y="494" width="7" height="3" fill="#000"/>
<rect x="639" y="495" width="5" height="1" fill="#fff"/>
<rect x="640" y="497" width="3" height="1" fill="#000"/>
<rect x="638" y="501" width="7" height="2" fill="#000"/>
<rect x="649" y="493" width="3" height="1" fill="#000"/>
<rect x="647" y="494" width="7" height="3" fill="#000"/>
<rect x="648" y="495" width="5" height="1" fill="#fff"/>
<rect x="649" y="497" width="3" height="1" fill="#000"/>
<rect x="647" y="501" width="7" height="2" fill="#000"/>
<rect x="659" y="493" width="3" height="1" fill="#000"/>
<rect x="657" y="494" width="7" height="3" fill="#000"/>
<rect x="658" y="495" width="5" height="1" fill="#fff"/>
<rect x="659" y="497" width="3" height="1" fill="#000"/>
<rect x="657" y="501" width="7" height="2" fill="#000"/>
<rect x="668" y="493" width="3" height="1" fill="#000"/>
<rect x="666" y="494" width="7" height="3" fill="#000"/>
<rect x="667" y="495" width="5" height="1" fill="#fff"/>
<rect x="668" y="497" width="3" height="1" fill="#000"/>
<rect x="666" y="501" width="7" height="2" fill="#000"/>
<rect x="677" y="493" width="3" height="1" fill="#000"/>
<rect x="675" y="494" width="7" height="3" fill="#000"/>
<rect x="676" y="495" width="5" height="1" fill="#fff"/>
<rect x="677" y="497" width="3" height="1" fill="#000"/>
<rect x="675" y="501" width="7" height="2" fill="#000"/>
<rect x="686" y="493" width="3" height="1" fill="#000"/>
<rect x="684" y="494" width="7" height="3" fill="#000"/>
<rect x="685" y="495" width="5" height="1" fill="#fff"/>
<rect x="686" y="497" width="3" height="1" fill="#000"/>
<rect x="684" y="501" width="7" height="2" fill="#000"/>
<rect x="696" y="493" width="3" height="1" fill="#000"/>
<rect x="694" y="494" width="7" height="3" fill="#000"/>
<rect x="695" y="495" width="5" height="1" fill="#fff"/>
<rect x="696" y="497" width="3" height="1" fill="#000"/>
<rect x="694" y="501" width="7" height="2" fill="#000"/>
<rect x="705" y="493" width="3" height="1" fill="#000"/>
<rect x="703" y="494" width="7" height="3" fill="#000"/>
<rect x="704" y="495" width="5" height="1" fill="#fff"/>
<rect x="705" y="497" width="3" height="1" fill="#000"/>
<rect x="703" y="501" width="7" height="2" fill="#000"/>
<rect x="714" y="493" width="3" height="1" fill="#000"/>
<rect x="712" y="494" width="7" height="3" fill="#000"/>
<rect x="713" y="495" width="5" height="1" fill="#fff"/>
<rect x="714" y="497" width="3" height="1" fill="#000"/>
<rect x="712" y="501" width="7" height="2" fill="#000"/>
<rect x="723" y="493" width="3" height="1" fill="#000"/>
<rect x="721" y="494" width="7" height="3" fill="#000"/>
<rect x="722" y="495" width="5" height="1" fill="#fff"/>
<rect x="723" y="497" width="3" height="1" fill="#000"/>
<rect x="721" y="501" width="7" height="2" fill="#000"/>
<rect x="732" y="493" width="3" height="1" fill="#000"/>
<rect x="730" y="494" width="7" height="3" fill="#000"/>
<rect x="731" y="495" width="5" height="1" fill="#fff"/>
<rect x="732" y="497" width="3" height="1" fill="#000"/>
<rect x="730" y="501" width="7" height="2" fill="#000"/>
<rect x="633" y="504" width="7" height="8" fill="#000"/>
<rect x="634" y="505" width="5" height="6" fill="#fff"/>
<rect x="642" y="504" width="7" height="8" fill="#000"/>
<rect x="643" y="505" width="5" height="6" fill="#fff"/>
<rect x="652" y="504" width="7" height="8" fill="#000"/>
<rect x="653" y="505" width="5" height="6" fill="#fff"/>
<rect x="661" y="504" width="7" height="8" fill="#000"/>
<rect x="662" y="505" width="5" height="6" fill="#fff"/>
<rect x="670" y="504" width="7" height="8" fill="#000"/>
<rect x="671" y="505" width="5" height="6" fill="#fff"/>
<rect x="680" y="504" width="7" height="8" fill="#000"/>
<rect x="681" y="505" width="5" height="6" fill="#fff"/>
<rect x="689" y="504" width="7" height="8" fill="#000"/>
<rect x="690" y="505" width="5" height="6" fill="#fff"/>
<rect x="698" y="504" width="7" height="8" fill="#000"/>
<rect x="699" y="505" width="5" height="6" fill="#fff"/>
<rect x="707" y="504" width="7" height="8" fill="#000"/>
<rect x="708" y="505" width="5" height="6" fill="#fff"/>
<rect x="717" y="504" width="7" height="8" fill="#000"/>
<rect x="718" y="505" width="5" height="6" fill="#fff"/>
<rect x="727" y="504" width="7" height="8" fill="#000"/>
<rect x="728" y="505" width="5" height="6" fill="#fff"/>
<rect x="627" y="506" width="1" height="4" fill="#fff"/>
<rect x="627" y="505" width="3" height="1" fill="#000"/>
<rect x="627" y="510" width="3" height="1" fill="#000"/>
<rect x="629" y="505" width="1" height="6" fill="#000"/>
<rect x="740" y="506" width="1" height="4" fill="#fff"/>
<rect x="737" y="505" width="4" height="1" fill="#000"/>
<rect x="737" y="510" width="4" height="1" fill="#000"/>
<rect x="737" y="505" width="1" height="6" fill="#000"/>
<rect x="756" y="433" width="29" height="38" fill="#000"/>
<rect x="780" y="429" width="5" height="46" fill="#000"/>
<rect x="782" y="427" width="3" height="50" fill="#000"/>
<rect x="749" y="442" width="5" height="9" fill="#000"/>
<rect x="750" y="443" width="3" height="7" fill="#fff"/>
<rect x="749" y="453" width="5" height="10" fill="#000"/>
<rect x="750" y="454" width="3" height="8" fill="#fff"/>
<rect x="753" y="440" width="3" height="24" fill="#fff"/>
<rect x="753" y="440" width="1" height="24" fill="#000"/>
<rect x="754" y="443" width="1" height="1" fill="#000"/>
<rect x="754" y="445" width="1" height="1" fill="#000"/>
<rect x="754" y="447" width="1" height="1" fill="#000"/>
<rect x="754" y="449" width="1" height="1" fill="#000"/>
<rect x="754" y="455" width="1" height="1" fill="#000"/>
<rect x="754" y="457" width="1" height="1" fill="#000"/>
<rect x="754" y="459" width="1" height="1" fill="#000"/>
<rect x="754" y="461" width="1" height="1" fill="#000"/>
<rect x="750" y="443" width="3" height="7" fill="#fff"/>
<rect x="750" y="454" width="3" height="8" fill="#fff"/>
<rect x="753" y="440" width="3" height="1" fill="#000"/>
<rect x="753" y="463" width="3" height="1" fill="#000"/>
<defs><pattern id="dots" x="0" y="0" width="2" height="2" patternUnits="userSpaceOnUse"><rect width="2" height="2" fill="#fff"/><rect x="0" y="0" width="1" height="1" fill="#000"/></pattern></defs>
<path d="M758.5 358.5H775.5Q780.5 358.5 780.5 363.5V366L778.5 368V376L780.5 378V380L778.5 382V390L780.5 392V395.5Q780.5 399.5 775.5 399.5H758.5Q753.5 399.5 753.5 395.5V392L755.5 390V382L753.5 380V378L755.5 376V368L753.5 366V363.5Q753.5 358.5 758.5 358.5Z" fill="url(#dots)" stroke="#000" stroke-width="1" shape-rendering="crispEdges"/>
</svg>
</body></html>
